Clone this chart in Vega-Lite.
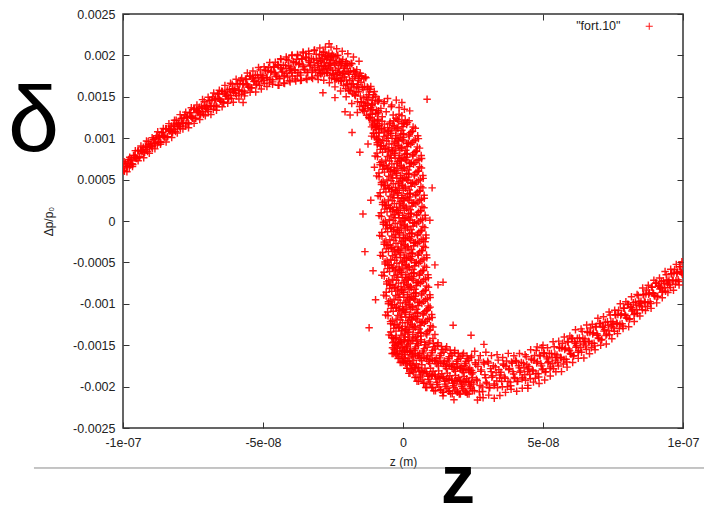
{
"$schema":"https://vega.github.io/schema/vega-lite/v6.json",
"width":560,"height":414,
"autosize":{"type":"none"},
"padding":{"left":123,"top":14,"right":21,"bottom":79},
"background":"white",
"config":{
"view":{"stroke":"#333333","strokeWidth":1.5},
"font":"Liberation Sans",
"axis":{"domain":false,"grid":false,"labelFont":"Liberation Sans","labelFontSize":12.5,"labelColor":"#222222","tickColor":"#333333","tickSize":-6,"tickWidth":1,"titleFont":"Liberation Sans","titleFontSize":12,"titleFontWeight":"normal","titleColor":"#222222"}
},
"data":{"values":[
{"z":-100e-9,"d":6.40e-4},{"z":-99.5e-9,"d":6.00e-4},{"z":-99e-9,"d":6.95e-4},{"z":-98.5e-9,"d":6.60e-4},{"z":-98e-9,"d":7.42e-4},{"z":-97.5e-9,"d":6.74e-4},{"z":-97e-9,"d":7.41e-4},{"z":-96.5e-9,"d":6.83e-4},{"z":-96e-9,"d":7.92e-4},{"z":-95.5e-9,"d":7.63e-4},
{"z":-95e-9,"d":7.58e-4},{"z":-94.5e-9,"d":8.51e-4},{"z":-94e-9,"d":7.76e-4},{"z":-93.5e-9,"d":8.50e-4},{"z":-93e-9,"d":8.45e-4},{"z":-92.5e-9,"d":8.20e-4},{"z":-92e-9,"d":9.04e-4},{"z":-91.5e-9,"d":8.60e-4},{"z":-91e-9,"d":9.58e-4},{"z":-90.5e-9,"d":8.97e-4},
{"z":-90e-9,"d":9.32e-4},{"z":-89.5e-9,"d":8.80e-4},{"z":-89e-9,"d":9.86e-4},{"z":-88.5e-9,"d":9.40e-4},{"z":-88e-9,"d":10.30e-4},{"z":-87.5e-9,"d":9.47e-4},{"z":-87e-9,"d":10.19e-4},{"z":-86.5e-9,"d":9.48e-4},{"z":-86e-9,"d":10.70e-4},{"z":-85.5e-9,"d":10.27e-4},
{"z":-85e-9,"d":10.14e-4},{"z":-84.5e-9,"d":11.14e-4},{"z":-84e-9,"d":10.19e-4},{"z":-83.5e-9,"d":11.02e-4},{"z":-83e-9,"d":10.95e-4},{"z":-82.5e-9,"d":10.63e-4},{"z":-82e-9,"d":11.59e-4},{"z":-81.5e-9,"d":11.07e-4},{"z":-81e-9,"d":12.17e-4},{"z":-80.5e-9,"d":11.45e-4},
{"z":-80e-9,"d":11.83e-4},{"z":-79.5e-9,"d":11.20e-4},{"z":-79e-9,"d":12.37e-4},{"z":-78.5e-9,"d":11.80e-4},{"z":-78e-9,"d":12.79e-4},{"z":-77.5e-9,"d":11.79e-4},{"z":-77e-9,"d":12.58e-4},{"z":-76.5e-9,"d":11.71e-4},{"z":-76e-9,"d":13.07e-4},{"z":-75.5e-9,"d":12.56e-4},
{"z":-75e-9,"d":12.40e-4},{"z":-74.5e-9,"d":13.52e-4},{"z":-74e-9,"d":12.42e-4},{"z":-73.5e-9,"d":13.32e-4},{"z":-73e-9,"d":13.20e-4},{"z":-72.5e-9,"d":12.80e-4},{"z":-72e-9,"d":13.84e-4},{"z":-71.5e-9,"d":13.20e-4},{"z":-71e-9,"d":14.41e-4},{"z":-70.5e-9,"d":13.55e-4},
{"z":-70e-9,"d":13.95e-4},{"z":-69.5e-9,"d":13.22e-4},{"z":-69e-9,"d":14.53e-4},{"z":-68.5e-9,"d":13.87e-4},{"z":-68e-9,"d":14.97e-4},{"z":-67.5e-9,"d":13.87e-4},{"z":-67e-9,"d":14.76e-4},{"z":-66.5e-9,"d":13.81e-4},{"z":-66e-9,"d":15.33e-4},{"z":-65.5e-9,"d":14.70e-4},
{"z":-65e-9,"d":14.45e-4},{"z":-64.5e-9,"d":15.64e-4},{"z":-64e-9,"d":14.35e-4},{"z":-63.5e-9,"d":15.34e-4},{"z":-63e-9,"d":15.20e-4},{"z":-62.5e-9,"d":14.73e-4},{"z":-62e-9,"d":15.90e-4},{"z":-61.5e-9,"d":15.17e-4},{"z":-61e-9,"d":16.51e-4},{"z":-60.5e-9,"d":15.53e-4},
{"z":-60e-9,"d":15.97e-4},{"z":-59.5e-9,"d":15.12e-4},{"z":-59e-9,"d":16.54e-4},{"z":-58.5e-9,"d":15.78e-4},{"z":-58e-9,"d":16.96e-4},{"z":-57.5e-9,"d":15.66e-4},{"z":-57e-9,"d":16.59e-4},{"z":-56.5e-9,"d":15.47e-4},{"z":-56e-9,"d":17.10e-4},{"z":-55.5e-9,"d":16.41e-4},
{"z":-55e-9,"d":16.16e-4},{"z":-54.5e-9,"d":17.49e-4},{"z":-54e-9,"d":16.09e-4},{"z":-53.5e-9,"d":17.15e-4},{"z":-53e-9,"d":16.95e-4},{"z":-52.5e-9,"d":16.41e-4},{"z":-52e-9,"d":17.65e-4},{"z":-51.5e-9,"d":16.82e-4},{"z":-51e-9,"d":18.25e-4},{"z":-50.5e-9,"d":17.15e-4},
{"z":-50e-9,"d":17.59e-4},{"z":-49.5e-9,"d":16.61e-4},{"z":-49e-9,"d":18.15e-4},{"z":-48.5e-9,"d":17.27e-4},{"z":-48e-9,"d":18.55e-4},{"z":-47.5e-9,"d":17.08e-4},{"z":-47e-9,"d":18.08e-4},{"z":-46.5e-9,"d":16.80e-4},{"z":-46e-9,"d":18.57e-4},{"z":-45.5e-9,"d":17.75e-4},
{"z":-45e-9,"d":17.42e-4},{"z":-44.5e-9,"d":18.81e-4},{"z":-44e-9,"d":17.22e-4},{"z":-43.5e-9,"d":18.34e-4},{"z":-43e-9,"d":18.10e-4},{"z":-42.5e-9,"d":17.46e-4},{"z":-42e-9,"d":18.80e-4},{"z":-41.5e-9,"d":17.85e-4},{"z":-41e-9,"d":19.40e-4},{"z":-40.5e-9,"d":18.15e-4},
{"z":-40e-9,"d":18.60e-4},{"z":-39.5e-9,"d":17.52e-4},{"z":-39e-9,"d":19.16e-4},{"z":-38.5e-9,"d":18.18e-4},{"z":-38e-9,"d":19.53e-4},{"z":-37.5e-9,"d":17.93e-4},{"z":-37e-9,"d":19.01e-4},{"z":-36.5e-9,"d":17.62e-4},{"z":-36e-9,"d":19.54e-4},{"z":-35.5e-9,"d":18.63e-4},
{"z":-35e-9,"d":18.23e-4},{"z":-34.5e-9,"d":19.73e-4},{"z":-34e-9,"d":17.94e-4},{"z":-33.5e-9,"d":19.15e-4},{"z":-33e-9,"d":18.85e-4},{"z":-32.5e-9,"d":18.13e-4},{"z":-32e-9,"d":19.55e-4},{"z":-31.5e-9,"d":18.50e-4},{"z":-31e-9,"d":20.14e-4},{"z":-30.5e-9,"d":18.76e-4},
{"z":-99.75e-9,"d":6.13e-4},{"z":-99.25e-9,"d":6.93e-4},{"z":-98.75e-9,"d":6.58e-4},{"z":-98.25e-9,"d":7.13e-4},{"z":-97.75e-9,"d":6.46e-4},{"z":-97.25e-9,"d":7.29e-4},{"z":-96.75e-9,"d":6.92e-4},{"z":-96.25e-9,"d":7.90e-4},{"z":-95.75e-9,"d":7.64e-4},{"z":-95.25e-9,"d":7.56e-4},
{"z":-94.75e-9,"d":8.47e-4},{"z":-94.25e-9,"d":7.70e-4},{"z":-93.75e-9,"d":8.55e-4},{"z":-93.25e-9,"d":8.34e-4},{"z":-92.75e-9,"d":8.90e-4},{"z":-92.25e-9,"d":8.31e-4},{"z":-91.75e-9,"d":8.88e-4},{"z":-91.25e-9,"d":8.38e-4},{"z":-90.75e-9,"d":9.25e-4},{"z":-90.25e-9,"d":9.14e-4},
{"z":-89.75e-9,"d":8.97e-4},{"z":-89.25e-9,"d":9.86e-4},{"z":-88.75e-9,"d":9.40e-4},{"z":-88.25e-9,"d":9.99e-4},{"z":-87.75e-9,"d":9.17e-4},{"z":-87.25e-9,"d":10.07e-4},{"z":-86.75e-9,"d":9.60e-4},{"z":-86.25e-9,"d":10.68e-4},{"z":-85.75e-9,"d":10.33e-4},{"z":-85.25e-9,"d":10.14e-4},
{"z":-84.75e-9,"d":11.14e-4},{"z":-84.25e-9,"d":10.14e-4},{"z":-83.75e-9,"d":11.09e-4},{"z":-83.25e-9,"d":10.83e-4},{"z":-82.75e-9,"d":11.47e-4},{"z":-82.25e-9,"d":10.76e-4},{"z":-81.75e-9,"d":11.40e-4},{"z":-81.25e-9,"d":10.81e-4},{"z":-80.75e-9,"d":11.78e-4},{"z":-80.25e-9,"d":11.64e-4},
{"z":-79.75e-9,"d":11.42e-4},{"z":-79.25e-9,"d":12.39e-4},{"z":-78.75e-9,"d":11.82e-4},{"z":-78.25e-9,"d":12.45e-4},{"z":-77.75e-9,"d":11.46e-4},{"z":-77.25e-9,"d":12.46e-4},{"z":-76.75e-9,"d":11.87e-4},{"z":-76.25e-9,"d":13.07e-4},{"z":-75.75e-9,"d":12.64e-4},{"z":-75.25e-9,"d":12.41e-4},
{"z":-74.75e-9,"d":13.53e-4},{"z":-74.25e-9,"d":12.37e-4},{"z":-73.75e-9,"d":13.41e-4},{"z":-73.25e-9,"d":13.08e-4},{"z":-72.75e-9,"d":13.75e-4},{"z":-72.25e-9,"d":12.92e-4},{"z":-71.75e-9,"d":13.60e-4},{"z":-71.25e-9,"d":12.88e-4},{"z":-70.75e-9,"d":13.95e-4},{"z":-70.25e-9,"d":13.75e-4},
{"z":-69.75e-9,"d":13.47e-4},{"z":-69.25e-9,"d":14.56e-4},{"z":-68.75e-9,"d":13.90e-4},{"z":-68.25e-9,"d":14.61e-4},{"z":-67.75e-9,"d":13.50e-4},{"z":-67.25e-9,"d":14.62e-4},{"z":-66.75e-9,"d":13.98e-4},{"z":-66.25e-9,"d":15.33e-4},{"z":-65.75e-9,"d":14.82e-4},{"z":-65.25e-9,"d":14.50e-4},
{"z":-64.75e-9,"d":15.68e-4},{"z":-64.25e-9,"d":14.34e-4},{"z":-63.75e-9,"d":15.46e-4},{"z":-63.25e-9,"d":15.07e-4},{"z":-62.75e-9,"d":15.82e-4},{"z":-62.25e-9,"d":14.86e-4},{"z":-61.75e-9,"d":15.62e-4},{"z":-61.25e-9,"d":14.80e-4},{"z":-60.75e-9,"d":15.98e-4},{"z":-60.25e-9,"d":15.75e-4},
{"z":-59.75e-9,"d":15.42e-4},{"z":-59.25e-9,"d":16.59e-4},{"z":-58.75e-9,"d":15.82e-4},{"z":-58.25e-9,"d":16.57e-4},{"z":-57.75e-9,"d":15.28e-4},{"z":-57.25e-9,"d":16.48e-4},{"z":-56.75e-9,"d":15.69e-4},{"z":-56.25e-9,"d":17.14e-4},{"z":-55.75e-9,"d":16.54e-4},{"z":-55.25e-9,"d":16.20e-4},
{"z":-54.75e-9,"d":17.53e-4},{"z":-54.25e-9,"d":16.05e-4},{"z":-53.75e-9,"d":17.29e-4},{"z":-53.25e-9,"d":16.83e-4},{"z":-52.75e-9,"d":17.61e-4},{"z":-52.25e-9,"d":16.54e-4},{"z":-51.75e-9,"d":17.32e-4},{"z":-51.25e-9,"d":16.40e-4},{"z":-50.75e-9,"d":17.65e-4},{"z":-50.25e-9,"d":17.37e-4},
{"z":-49.75e-9,"d":16.96e-4},{"z":-49.25e-9,"d":18.22e-4},{"z":-48.75e-9,"d":17.34e-4},{"z":-48.25e-9,"d":18.14e-4},{"z":-47.75e-9,"d":16.68e-4},{"z":-47.25e-9,"d":17.96e-4},{"z":-46.75e-9,"d":17.06e-4},{"z":-46.25e-9,"d":18.63e-4},{"z":-45.75e-9,"d":17.93e-4},{"z":-45.25e-9,"d":17.50e-4},
{"z":-44.75e-9,"d":18.89e-4},{"z":-44.25e-9,"d":17.21e-4},{"z":-43.75e-9,"d":18.52e-4},{"z":-43.25e-9,"d":17.98e-4},{"z":-42.75e-9,"d":18.82e-4},{"z":-42.25e-9,"d":17.59e-4},{"z":-41.75e-9,"d":18.43e-4},{"z":-41.25e-9,"d":17.38e-4},{"z":-40.75e-9,"d":18.73e-4},{"z":-40.25e-9,"d":18.38e-4},
{"z":-39.75e-9,"d":17.91e-4},{"z":-39.25e-9,"d":19.25e-4},{"z":-38.75e-9,"d":18.27e-4},{"z":-38.25e-9,"d":19.10e-4},{"z":-37.75e-9,"d":17.50e-4},{"z":-37.25e-9,"d":18.89e-4},{"z":-36.75e-9,"d":17.91e-4},{"z":-36.25e-9,"d":19.61e-4},{"z":-35.75e-9,"d":18.83e-4},{"z":-35.25e-9,"d":18.32e-4},
{"z":-34.75e-9,"d":19.82e-4},{"z":-34.25e-9,"d":17.95e-4},{"z":-33.75e-9,"d":19.36e-4},{"z":-33.25e-9,"d":18.73e-4},{"z":-32.75e-9,"d":19.62e-4},{"z":-32.25e-9,"d":18.25e-4},{"z":-31.75e-9,"d":19.14e-4},{"z":-31.25e-9,"d":17.97e-4},{"z":-30.75e-9,"d":19.40e-4},{"z":-30.25e-9,"d":18.99e-4},
{"z":-99.6e-9,"d":7.17e-4},{"z":-98.6e-9,"d":5.95e-4},{"z":-97.6e-9,"d":7.70e-4},{"z":-96.6e-9,"d":6.58e-4},{"z":-95.6e-9,"d":8.50e-4},{"z":-94.6e-9,"d":7.28e-4},{"z":-93.6e-9,"d":9.07e-4},{"z":-92.6e-9,"d":7.65e-4},{"z":-91.6e-9,"d":9.66e-4},{"z":-90.6e-9,"d":8.18e-4},
{"z":-89.6e-9,"d":10.07e-4},{"z":-88.6e-9,"d":8.71e-4},{"z":-87.6e-9,"d":10.78e-4},{"z":-86.6e-9,"d":9.26e-4},{"z":-85.6e-9,"d":11.17e-4},{"z":-84.6e-9,"d":9.54e-4},{"z":-83.6e-9,"d":11.76e-4},{"z":-82.6e-9,"d":10.08e-4},{"z":-81.6e-9,"d":12.16e-4},{"z":-80.6e-9,"d":10.63e-4},
{"z":-79.6e-9,"d":12.85e-4},{"z":-78.6e-9,"d":11.10e-4},{"z":-77.6e-9,"d":13.15e-4},{"z":-76.6e-9,"d":11.26e-4},{"z":-75.6e-9,"d":13.67e-4},{"z":-74.6e-9,"d":11.79e-4},{"z":-73.6e-9,"d":14.02e-4},{"z":-72.6e-9,"d":12.26e-4},{"z":-71.6e-9,"d":14.66e-4},{"z":-70.6e-9,"d":12.71e-4},
{"z":-69.6e-9,"d":14.94e-4},{"z":-68.6e-9,"d":12.86e-4},{"z":-67.6e-9,"d":15.46e-4},{"z":-66.6e-9,"d":13.38e-4},{"z":-65.6e-9,"d":15.79e-4},{"z":-64.6e-9,"d":13.79e-4},{"z":-63.6e-9,"d":16.38e-4},{"z":-62.6e-9,"d":14.23e-4},{"z":-61.6e-9,"d":16.63e-4},{"z":-60.6e-9,"d":14.35e-4},
{"z":-59.6e-9,"d":17.12e-4},{"z":-58.6e-9,"d":14.74e-4},{"z":-57.6e-9,"d":17.28e-4},{"z":-56.6e-9,"d":15.11e-4},{"z":-55.6e-9,"d":17.87e-4},{"z":-54.6e-9,"d":15.54e-4},{"z":-53.6e-9,"d":18.11e-4},{"z":-52.6e-9,"d":15.57e-4},{"z":-51.6e-9,"d":18.53e-4},{"z":-50.6e-9,"d":15.95e-4},
{"z":-49.6e-9,"d":18.64e-4},{"z":-48.6e-9,"d":16.24e-4},{"z":-47.6e-9,"d":19.14e-4},{"z":-46.6e-9,"d":16.51e-4},{"z":-45.6e-9,"d":19.18e-4},{"z":-44.6e-9,"d":16.40e-4},{"z":-43.6e-9,"d":19.50e-4},{"z":-42.6e-9,"d":16.67e-4},{"z":-41.6e-9,"d":19.53e-4},{"z":-40.6e-9,"d":16.94e-4},
{"z":-39.6e-9,"d":20.04e-4},{"z":-38.6e-9,"d":17.14e-4},{"z":-37.6e-9,"d":19.98e-4},{"z":-36.6e-9,"d":16.98e-4},{"z":-35.6e-9,"d":20.28e-4},{"z":-34.6e-9,"d":17.20e-4},{"z":-33.6e-9,"d":20.20e-4},{"z":-32.6e-9,"d":17.37e-4},{"z":-31.6e-9,"d":20.65e-4},{"z":-30.6e-9,"d":17.55e-4},
{"z":-43.7e-9,"d":19.6e-4},{"z":-44.3e-9,"d":16.4e-4},{"z":-41.7e-9,"d":19.8e-4},{"z":-42.3e-9,"d":16.6e-4},{"z":-39.7e-9,"d":20.0e-4},{"z":-40.3e-9,"d":16.8e-4},{"z":-37.7e-9,"d":20.1e-4},{"z":-38.3e-9,"d":16.9e-4},{"z":-35.7e-9,"d":20.4e-4},{"z":-36.3e-9,"d":17.0e-4},
{"z":-33.7e-9,"d":20.5e-4},{"z":-34.3e-9,"d":17.1e-4},{"z":-31.7e-9,"d":20.6e-4},{"z":-32.3e-9,"d":17.2e-4},{"z":-29.7e-9,"d":20.9e-4},{"z":-30.3e-9,"d":17.1e-4},{"z":-27.7e-9,"d":21.0e-4},{"z":-28.3e-9,"d":17.0e-4},{"z":-25.7e-9,"d":21.0e-4},{"z":-26.3e-9,"d":16.7e-4},
{"z":-23.7e-9,"d":20.8e-4},{"z":-24.3e-9,"d":16.2e-4},{"z":-21.7e-9,"d":20.5e-4},{"z":-22.3e-9,"d":15.7e-4},{"z":-19.7e-9,"d":20.2e-4},{"z":-20.3e-9,"d":15.0e-4},{"z":-17.7e-9,"d":19.8e-4},{"z":-18.3e-9,"d":14.2e-4},{"z":-15.7e-9,"d":19.3e-4},{"z":-16.3e-9,"d":13.1e-4},
{"z":-30e-9,"d":19.6e-4},{"z":-30e-9,"d":18.16e-4},{"z":-29.5e-9,"d":17.78e-4},{"z":-29.5e-9,"d":19.37e-4},{"z":-29e-9,"d":20.12e-4},{"z":-29e-9,"d":18.75e-4},{"z":-28.5e-9,"d":18.37e-4},{"z":-28.5e-9,"d":20.39e-4},{"z":-28e-9,"d":19.13e-4},{"z":-28e-9,"d":17.85e-4},
{"z":-27.5e-9,"d":19.89e-4},{"z":-27.5e-9,"d":18.46e-4},{"z":-27e-9,"d":17.89e-4},{"z":-27e-9,"d":19.74e-4},{"z":-26.5e-9,"d":20.27e-4},{"z":-26.5e-9,"d":18.80e-4},{"z":-26e-9,"d":18.49e-4},{"z":-26e-9,"d":19.44e-4},{"z":-25.5e-9,"d":17.28e-4},{"z":-25.5e-9,"d":19.90e-4},
{"z":-25e-9,"d":19.40e-4},{"z":-25e-9,"d":17.72e-4},{"z":-24.5e-9,"d":17.18e-4},{"z":-24.5e-9,"d":19.03e-4},{"z":-24e-9,"d":19.80e-4},{"z":-24e-9,"d":18.21e-4},{"z":-23.5e-9,"d":17.67e-4},{"z":-23.5e-9,"d":20.01e-4},{"z":-23e-9,"d":18.45e-4},{"z":-23e-9,"d":16.97e-4},
{"z":-22.5e-9,"d":19.25e-4},{"z":-22.5e-9,"d":17.60e-4},{"z":-22e-9,"d":16.88e-4},{"z":-22e-9,"d":19.01e-4},{"z":-21.5e-9,"d":19.52e-4},{"z":-21.5e-9,"d":17.83e-4},{"z":-21e-9,"d":17.38e-4},{"z":-21e-9,"d":18.47e-4},{"z":-20.5e-9,"d":15.99e-4},{"z":-20.5e-9,"d":19.0e-4},
{"z":-20e-9,"d":18.4e-4},{"z":-20e-9,"d":16.48e-4},{"z":-19.5e-9,"d":15.81e-4},{"z":-19.5e-9,"d":17.94e-4},{"z":-19e-9,"d":18.81e-4},{"z":-19e-9,"d":16.96e-4},{"z":-18.5e-9,"d":16.29e-4},{"z":-18.5e-9,"d":19.04e-4},{"z":-18e-9,"d":17.18e-4},{"z":-18e-9,"d":15.42e-4},
{"z":-17.5e-9,"d":18.06e-4},{"z":-17.5e-9,"d":16.08e-4},{"z":-17e-9,"d":15.13e-4},{"z":-17e-9,"d":17.70e-4},{"z":-16.5e-9,"d":18.28e-4},{"z":-16.5e-9,"d":16.21e-4},{"z":-16e-9,"d":15.62e-4},{"z":-16e-9,"d":16.97e-4},{"z":-15.5e-9,"d":13.82e-4},{"z":-15.5e-9,"d":17.55e-4},
{"z":-15e-9,"d":16.75e-4},{"z":-15e-9,"d":14.35e-4},{"z":-14.5e-9,"d":13.48e-4},{"z":-14.5e-9,"d":16.15e-4},{"z":-14e-9,"d":17.19e-4},{"z":-14e-9,"d":14.88e-4},{"z":-13.5e-9,"d":13.96e-4},{"z":-13.5e-9,"d":17.40e-4},{"z":-13e-9,"d":14.97e-4},{"z":-13e-9,"d":12.77e-4},
{"z":-12.5e-9,"d":16.05e-4},{"z":-12.5e-9,"d":13.58e-4},{"z":-12e-9,"d":12.36e-4},{"z":-12e-9,"d":15.58e-4},{"z":-11.5e-9,"d":16.25e-4},{"z":-11.5e-9,"d":13.67e-4},{"z":-11e-9,"d":12.88e-4},{"z":-11e-9,"d":14.56e-4},{"z":-10.5e-9,"d":10.61e-4},{"z":-10.5e-9,"d":15.26e-4},
{"z":-10e-9,"d":14.25e-4},{"z":-10e-9,"d":11.25e-4},{"z":-9.5e-9,"d":10.13e-4},{"z":-9.5e-9,"d":13.38e-4},{"z":-9e-9,"d":14.5e-4},{"z":-9e-9,"d":11.75e-4},{"z":-8.5e-9,"d":10.63e-4},{"z":-8.5e-9,"d":14.63e-4},
{"z":-29.75e-9,"d":18.27e-4},{"z":-29.75e-9,"d":20.09e-4},{"z":-29.25e-9,"d":19.25e-4},{"z":-29.25e-9,"d":17.77e-4},{"z":-28.75e-9,"d":17.88e-4},{"z":-28.75e-9,"d":19.63e-4},{"z":-28.25e-9,"d":20.40e-4},{"z":-28.25e-9,"d":18.62e-4},{"z":-27.75e-9,"d":18.73e-4},{"z":-27.75e-9,"d":19.89e-4},
{"z":-27.25e-9,"d":19.49e-4},{"z":-27.25e-9,"d":17.92e-4},{"z":-26.75e-9,"d":20.0e-4},{"z":-26.75e-9,"d":18.28e-4},{"z":-26.25e-9,"d":17.57e-4},{"z":-26.25e-9,"d":19.06e-4},{"z":-25.75e-9,"d":19.67e-4},{"z":-25.75e-9,"d":18.85e-4},{"z":-25.25e-9,"d":18.19e-4},{"z":-25.25e-9,"d":20.14e-4},
{"z":-24.75e-9,"d":17.80e-4},{"z":-24.75e-9,"d":19.92e-4},{"z":-24.25e-9,"d":18.84e-4},{"z":-24.25e-9,"d":17.12e-4},{"z":-23.75e-9,"d":17.15e-4},{"z":-23.75e-9,"d":19.18e-4},{"z":-23.25e-9,"d":19.97e-4},{"z":-23.25e-9,"d":17.91e-4},{"z":-22.75e-9,"d":17.95e-4},{"z":-22.75e-9,"d":19.29e-4},
{"z":-22.25e-9,"d":18.75e-4},{"z":-22.25e-9,"d":16.94e-4},{"z":-21.75e-9,"d":19.26e-4},{"z":-21.75e-9,"d":17.28e-4},{"z":-21.25e-9,"d":16.37e-4},{"z":-21.25e-9,"d":18.08e-4},{"z":-20.75e-9,"d":18.73e-4},{"z":-20.75e-9,"d":17.79e-4},{"z":-20.25e-9,"d":17.03e-4},{"z":-20.25e-9,"d":19.26e-4},
{"z":-19.75e-9,"d":16.56e-4},{"z":-19.75e-9,"d":18.99e-4},{"z":-19.25e-9,"d":17.71e-4},{"z":-19.25e-9,"d":15.72e-4},{"z":-18.75e-9,"d":15.70e-4},{"z":-18.75e-9,"d":18.08e-4},{"z":-18.25e-9,"d":18.99e-4},{"z":-18.25e-9,"d":16.56e-4},{"z":-17.75e-9,"d":16.54e-4},{"z":-17.75e-9,"d":18.15e-4},
{"z":-17.25e-9,"d":17.43e-4},{"z":-17.25e-9,"d":15.24e-4},{"z":-16.75e-9,"d":17.99e-4},{"z":-16.75e-9,"d":15.57e-4},{"z":-16.25e-9,"d":14.4e-4},{"z":-16.25e-9,"d":16.49e-4},{"z":-15.75e-9,"d":17.25e-4},{"z":-15.75e-9,"d":16.09e-4},{"z":-15.25e-9,"d":15.08e-4},{"z":-15.25e-9,"d":17.85e-4},
{"z":-14.75e-9,"d":14.42e-4},{"z":-14.75e-9,"d":17.47e-4},{"z":-14.25e-9,"d":15.84e-4},{"z":-14.25e-9,"d":13.34e-4},{"z":-13.75e-9,"d":13.25e-4},{"z":-13.75e-9,"d":16.24e-4},{"z":-13.25e-9,"d":17.29e-4},{"z":-13.25e-9,"d":14.24e-4},{"z":-12.75e-9,"d":14.17e-4},{"z":-12.75e-9,"d":16.18e-4},
{"z":-12.25e-9,"d":15.25e-4},{"z":-12.25e-9,"d":12.52e-4},{"z":-11.75e-9,"d":15.91e-4},{"z":-11.75e-9,"d":12.89e-4},{"z":-11.25e-9,"d":11.37e-4},{"z":-11.25e-9,"d":13.99e-4},{"z":-10.75e-9,"d":14.91e-4},{"z":-10.75e-9,"d":13.45e-4},{"z":-10.25e-9,"d":12.16e-4},{"z":-10.25e-9,"d":15.63e-4},
{"z":-9.75e-9,"d":11.32e-4},{"z":-9.75e-9,"d":15.07e-4},{"z":-9.25e-9,"d":12.94e-4},{"z":-9.25e-9,"d":9.94e-4},{"z":-8.75e-9,"d":9.82e-4},{"z":-8.75e-9,"d":13.32e-4},
{"z":-9.0e-9,"d":12.3e-4},{"z":-2.5e-9,"d":12.4e-4},{"z":0.8e-9,"d":12.2e-4},{"z":-7.4e-9,"d":12.6e-4},{"z":-0.4e-9,"d":12.7e-4},{"z":-11.6e-9,"d":12.5e-4},{"z":-1.4e-9,"d":12.9e-4},{"z":-9.8e-9,"d":13.0e-4},{"z":-3.5e-9,"d":12.8e-4},
{"z":-6.0e-9,"d":13.2e-4},{"z":2.4e-9,"d":13.3e-4},{"z":-8.8e-9,"d":13.1e-4},{"z":0.5e-9,"d":13.5e-4},{"z":-7.9e-9,"d":13.6e-4},{"z":-11.4e-9,"d":13.4e-4},{"z":-4.2e-9,"d":13.8e-4},{"z":-14.0e-9,"d":13.9e-4},{"z":-1.4e-9,"d":13.7e-4},
{"z":-11.0e-9,"d":14.1e-4},{"z":-6.8e-9,"d":14.2e-4},{"z":-4.0e-9,"d":14.0e-4},{"z":-6.7e-9,"d":14.4e-4},{"z":-8.8e-9,"d":14.5e-4},{"z":-0.4e-9,"d":14.3e-4},{"z":-12.5e-9,"d":14.7e-4},{"z":-5.5e-9,"d":14.8e-4},{"z":-2.4e-9,"d":14.6e-4},
{"z":-10.3e-9,"d":12.0e-4},{"z":-3.3e-9,"d":12.1e-4},{"z":1.6e-9,"d":11.9e-4},{"z":-6.6e-9,"d":11.7e-4},{"z":0.4e-9,"d":11.8e-4},{"z":-10.8e-9,"d":11.6e-4},{"z":0.0e-9,"d":11.4e-4},{"z":-8.4e-9,"d":11.5e-4},{"z":-2.1e-9,"d":11.3e-4},
{"z":-4.0e-9,"d":11.1e-4},{"z":4.4e-9,"d":11.2e-4},{"z":-6.8e-9,"d":11.0e-4},{"z":3.2e-9,"d":10.8e-4},{"z":-5.2e-9,"d":10.9e-4},{"z":-8.7e-9,"d":10.7e-4},{"z":-0.8e-9,"d":10.5e-4},{"z":-10.6e-9,"d":10.6e-4},{"z":2.0e-9,"d":10.4e-4},
{"z":-6.8e-9,"d":10.2e-4},{"z":-2.6e-9,"d":10.3e-4},{"z":0.2e-9,"d":10.1e-4},{"z":-1.8e-9,"d":9.9e-4},{"z":-3.9e-9,"d":10.0e-4},{"z":4.5e-9,"d":9.8e-4},{"z":-8.6e-9,"d":9.6e-4},{"z":-1.6e-9,"d":9.7e-4},{"z":3.3e-9,"d":9.5e-4},
{"z":-5.0e-9,"d":9.3e-4},{"z":2.0e-9,"d":9.4e-4},{"z":-9.2e-9,"d":9.2e-4},{"z":1.5e-9,"d":9.0e-4},{"z":-6.9e-9,"d":9.1e-4},{"z":-0.6e-9,"d":8.9e-4},{"z":-2.6e-9,"d":8.7e-4},{"z":5.9e-9,"d":8.8e-4},{"z":-5.4e-9,"d":8.6e-4},
{"z":4.6e-9,"d":8.4e-4},{"z":-3.8e-9,"d":8.5e-4},{"z":-7.3e-9,"d":8.3e-4},{"z":0.6e-9,"d":8.1e-4},{"z":-9.3e-9,"d":8.2e-4},{"z":3.4e-9,"d":8.0e-4},{"z":-5.6e-9,"d":7.8e-4},{"z":-1.4e-9,"d":7.9e-4},{"z":1.4e-9,"d":7.7e-4},
{"z":-0.7e-9,"d":7.5e-4},{"z":-2.8e-9,"d":7.6e-4},{"z":5.7e-9,"d":7.4e-4},{"z":-7.6e-9,"d":7.2e-4},{"z":-0.6e-9,"d":7.3e-4},{"z":4.3e-9,"d":7.1e-4},{"z":-4.0e-9,"d":6.9e-4},{"z":3.0e-9,"d":7.0e-4},{"z":-8.2e-9,"d":6.8e-4},
{"z":2.4e-9,"d":6.6e-4},{"z":-6.0e-9,"d":6.7e-4},{"z":0.3e-9,"d":6.5e-4},{"z":-1.8e-9,"d":6.3e-4},{"z":6.6e-9,"d":6.4e-4},{"z":-4.6e-9,"d":6.2e-4},{"z":5.3e-9,"d":6.0e-4},{"z":-3.1e-9,"d":6.1e-4},{"z":-6.6e-9,"d":5.9e-4},
{"z":1.2e-9,"d":5.7e-4},{"z":-8.6e-9,"d":5.8e-4},{"z":4.0e-9,"d":5.6e-4},{"z":-5.1e-9,"d":5.4e-4},{"z":-0.9e-9,"d":5.5e-4},{"z":1.9e-9,"d":5.3e-4},{"z":-0.1e-9,"d":5.1e-4},{"z":-2.2e-9,"d":5.2e-4},{"z":6.2e-9,"d":5.0e-4},
{"z":-7.1e-9,"d":4.8e-4},{"z":-0.1e-9,"d":4.9e-4},{"z":4.8e-9,"d":4.7e-4},{"z":-3.5e-9,"d":4.5e-4},{"z":3.5e-9,"d":4.6e-4},{"z":-7.7e-9,"d":4.4e-4},{"z":2.9e-9,"d":4.2e-4},{"z":-5.5e-9,"d":4.3e-4},{"z":0.8e-9,"d":4.1e-4},
{"z":-1.3e-9,"d":3.9e-4},{"z":7.1e-9,"d":4.0e-4},{"z":-4.1e-9,"d":3.8e-4},{"z":5.8e-9,"d":3.6e-4},{"z":-2.6e-9,"d":3.7e-4},{"z":-6.1e-9,"d":3.5e-4},{"z":1.6e-9,"d":3.3e-4},{"z":-8.2e-9,"d":3.4e-4},{"z":4.4e-9,"d":3.2e-4},
{"z":-4.6e-9,"d":3.0e-4},{"z":-0.4e-9,"d":3.1e-4},{"z":2.4e-9,"d":2.9e-4},{"z":0.3e-9,"d":2.7e-4},{"z":-1.8e-9,"d":2.8e-4},{"z":6.6e-9,"d":2.6e-4},{"z":-6.6e-9,"d":2.4e-4},{"z":0.4e-9,"d":2.5e-4},{"z":5.3e-9,"d":2.3e-4},
{"z":-3.1e-9,"d":2.1e-4},{"z":3.9e-9,"d":2.2e-4},{"z":-7.3e-9,"d":2.0e-4},{"z":3.2e-9,"d":1.8e-4},{"z":-5.2e-9,"d":1.9e-4},{"z":1.1e-9,"d":1.7e-4},{"z":-0.9e-9,"d":1.5e-4},{"z":7.5e-9,"d":1.6e-4},{"z":-3.7e-9,"d":1.4e-4},
{"z":6.2e-9,"d":1.2e-4},{"z":-2.2e-9,"d":1.3e-4},{"z":-5.7e-9,"d":1.1e-4},{"z":2.0e-9,"d":0.9e-4},{"z":-7.8e-9,"d":1.0e-4},{"z":4.8e-9,"d":0.8e-4},{"z":-4.3e-9,"d":0.6e-4},{"z":-0.1e-9,"d":0.7e-4},{"z":2.7e-9,"d":0.5e-4},
{"z":0.7e-9,"d":0.3e-4},{"z":-1.4e-9,"d":0.4e-4},{"z":7.0e-9,"d":0.2e-4},{"z":-6.3e-9,"d":0.0e-4},{"z":0.7e-9,"d":0.1e-4},{"z":5.6e-9,"d":-0.1e-4},{"z":-2.8e-9,"d":-0.3e-4},{"z":4.2e-9,"d":-0.2e-4},{"z":-7.0e-9,"d":-0.4e-4},
{"z":3.6e-9,"d":-0.6e-4},{"z":-4.8e-9,"d":-0.5e-4},{"z":1.5e-9,"d":-0.7e-4},{"z":-0.6e-9,"d":-0.9e-4},{"z":7.8e-9,"d":-0.8e-4},{"z":-3.4e-9,"d":-1.0e-4},{"z":6.4e-9,"d":-1.2e-4},{"z":-2.0e-9,"d":-1.1e-4},{"z":-5.5e-9,"d":-1.3e-4},
{"z":2.3e-9,"d":-1.5e-4},{"z":-7.6e-9,"d":-1.4e-4},{"z":5.1e-9,"d":-1.6e-4},{"z":-4.0e-9,"d":-1.8e-4},{"z":0.2e-9,"d":-1.7e-4},{"z":3.0e-9,"d":-1.9e-4},{"z":0.9e-9,"d":-2.1e-4},{"z":-1.2e-9,"d":-2.0e-4},{"z":7.2e-9,"d":-2.2e-4},
{"z":-6.1e-9,"d":-2.4e-4},{"z":0.9e-9,"d":-2.3e-4},{"z":5.8e-9,"d":-2.5e-4},{"z":-2.5e-9,"d":-2.7e-4},{"z":4.5e-9,"d":-2.6e-4},{"z":-6.7e-9,"d":-2.8e-4},{"z":3.8e-9,"d":-3.0e-4},{"z":-4.6e-9,"d":-2.9e-4},{"z":1.7e-9,"d":-3.1e-4},
{"z":-0.4e-9,"d":-3.3e-4},{"z":8.0e-9,"d":-3.2e-4},{"z":-3.2e-9,"d":-3.4e-4},{"z":6.7e-9,"d":-3.6e-4},{"z":-1.7e-9,"d":-3.5e-4},{"z":-5.2e-9,"d":-3.7e-4},{"z":2.5e-9,"d":-3.9e-4},{"z":-7.3e-9,"d":-3.8e-4},{"z":5.3e-9,"d":-4.0e-4},
{"z":-3.8e-9,"d":-4.2e-4},{"z":0.4e-9,"d":-4.1e-4},{"z":3.2e-9,"d":-4.3e-4},{"z":1.2e-9,"d":-4.5e-4},{"z":-0.9e-9,"d":-4.4e-4},{"z":7.5e-9,"d":-4.6e-4},{"z":-5.7e-9,"d":-4.8e-4},{"z":1.3e-9,"d":-4.7e-4},{"z":6.2e-9,"d":-4.9e-4},
{"z":-2.2e-9,"d":-5.1e-4},{"z":4.8e-9,"d":-5.0e-4},{"z":-6.4e-9,"d":-5.2e-4},{"z":4.2e-9,"d":-5.4e-4},{"z":-4.2e-9,"d":-5.3e-4},{"z":2.1e-9,"d":-5.5e-4},{"z":0.0e-9,"d":-5.7e-4},{"z":8.4e-9,"d":-5.6e-4},{"z":-2.8e-9,"d":-5.8e-4},
{"z":7.1e-9,"d":-6.0e-4},{"z":-1.3e-9,"d":-5.9e-4},{"z":-4.8e-9,"d":-6.1e-4},{"z":3.0e-9,"d":-6.3e-4},{"z":-6.8e-9,"d":-6.2e-4},{"z":5.8e-9,"d":-6.4e-4},{"z":-3.2e-9,"d":-6.6e-4},{"z":1.0e-9,"d":-6.5e-4},{"z":3.8e-9,"d":-6.7e-4},
{"z":1.8e-9,"d":-6.9e-4},{"z":-0.3e-9,"d":-6.8e-4},{"z":8.1e-9,"d":-7.0e-4},{"z":-5.1e-9,"d":-7.2e-4},{"z":1.9e-9,"d":-7.1e-4},{"z":6.8e-9,"d":-7.3e-4},{"z":-1.6e-9,"d":-7.5e-4},{"z":5.5e-9,"d":-7.4e-4},{"z":-5.8e-9,"d":-7.6e-4},
{"z":4.8e-9,"d":-7.8e-4},{"z":-3.6e-9,"d":-7.7e-4},{"z":2.7e-9,"d":-7.9e-4},{"z":0.7e-9,"d":-8.1e-4},{"z":9.1e-9,"d":-8.0e-4},{"z":-2.1e-9,"d":-8.2e-4},{"z":7.9e-9,"d":-8.4e-4},{"z":-0.5e-9,"d":-8.3e-4},{"z":-4.0e-9,"d":-8.5e-4},
{"z":3.8e-9,"d":-8.7e-4},{"z":-6.0e-9,"d":-8.6e-4},{"z":6.6e-9,"d":-8.8e-4},{"z":-2.6e-9,"d":-9.0e-4},{"z":1.6e-9,"d":-8.9e-4},{"z":4.4e-9,"d":-9.1e-4},{"z":2.4e-9,"d":-9.3e-4},{"z":0.3e-9,"d":-9.2e-4},{"z":8.7e-9,"d":-9.4e-4},
{"z":-4.6e-9,"d":-9.6e-4},{"z":2.5e-9,"d":-9.5e-4},{"z":7.4e-9,"d":-9.7e-4},{"z":-1.0e-9,"d":-9.9e-4},{"z":6.0e-9,"d":-9.8e-4},{"z":-5.2e-9,"d":-10.0e-4},{"z":5.4e-9,"d":-10.2e-4},{"z":-3.0e-9,"d":-10.1e-4},{"z":3.3e-9,"d":-10.3e-4},
{"z":1.3e-9,"d":-10.5e-4},{"z":9.7e-9,"d":-10.4e-4},{"z":-1.5e-9,"d":-10.6e-4},{"z":8.4e-9,"d":-10.8e-4},{"z":0.0e-9,"d":-10.7e-4},{"z":-3.5e-9,"d":-10.9e-4},{"z":4.3e-9,"d":-11.1e-4},{"z":-5.5e-9,"d":-11.0e-4},{"z":7.1e-9,"d":-11.2e-4},
{"z":-1.9e-9,"d":-11.4e-4},{"z":2.3e-9,"d":-11.3e-4},{"z":5.1e-9,"d":-11.5e-4},{"z":3.1e-9,"d":-11.7e-4},{"z":1.0e-9,"d":-11.6e-4},{"z":9.4e-9,"d":-11.8e-4},{"z":-3.8e-9,"d":-12.0e-4},{"z":3.2e-9,"d":-11.9e-4},{"z":8.1e-9,"d":-12.1e-4},
{"z":-0.2e-9,"d":-12.3e-4},{"z":6.9e-9,"d":-12.2e-4},{"z":-4.4e-9,"d":-12.4e-4},{"z":6.3e-9,"d":-12.6e-4},{"z":-2.1e-9,"d":-12.5e-4},{"z":4.2e-9,"d":-12.7e-4},{"z":2.3e-9,"d":-12.9e-4},{"z":10.7e-9,"d":-12.8e-4},{"z":-0.6e-9,"d":-13.0e-4},
{"z":9.4e-9,"d":-13.2e-4},{"z":1.0e-9,"d":-13.1e-4},{"z":-2.5e-9,"d":-13.3e-4},{"z":5.4e-9,"d":-13.5e-4},{"z":-4.4e-9,"d":-13.4e-4},{"z":8.2e-9,"d":-13.6e-4},{"z":-0.7e-9,"d":-13.8e-4},{"z":3.5e-9,"d":-13.7e-4},{"z":6.3e-9,"d":-13.9e-4},
{"z":4.4e-9,"d":-14.1e-4},{"z":2.3e-9,"d":-14.0e-4},{"z":10.7e-9,"d":-14.2e-4},
{"z":-9.0e-9,"d":12.15e-4},{"z":-2.0e-9,"d":12.25e-4},{"z":2.2e-9,"d":12.1e-4},{"z":-10.9e-9,"d":11.85e-4},{"z":-4.6e-9,"d":11.95e-4},{"z":-0.4e-9,"d":11.8e-4},{"z":-3.6e-9,"d":11.55e-4},{"z":1.3e-9,"d":11.65e-4},{"z":-9.2e-9,"d":11.5e-4},
{"z":-5.5e-9,"d":11.25e-4},{"z":3.6e-9,"d":11.35e-4},{"z":-7.6e-9,"d":11.2e-4},{"z":-0.4e-9,"d":10.95e-4},{"z":-9.5e-9,"d":11.05e-4},{"z":-2.5e-9,"d":10.9e-4},{"z":2.65e-9,"d":10.65e-4},{"z":-6.45e-9,"d":10.75e-4},{"z":-4.35e-9,"d":10.6e-4},
{"z":-5.75e-9,"d":10.35e-4},{"z":0.25e-9,"d":10.45e-4},{"z":5.25e-9,"d":10.3e-4},{"z":-1.1e-9,"d":10.05e-4},{"z":-10.2e-9,"d":10.15e-4},{"z":-5.3e-9,"d":10.0e-4},{"z":-7.3e-9,"d":9.75e-4},{"z":-0.3e-9,"d":9.85e-4},{"z":3.9e-9,"d":9.7e-4},
{"z":-9.2e-9,"d":9.45e-4},{"z":-2.9e-9,"d":9.55e-4},{"z":1.3e-9,"d":9.4e-4},{"z":-2.1e-9,"d":9.15e-4},{"z":2.8e-9,"d":9.25e-4},{"z":-7.7e-9,"d":9.1e-4},{"z":-4.0e-9,"d":8.85e-4},{"z":5.1e-9,"d":8.95e-4},{"z":-6.1e-9,"d":8.8e-4},
{"z":1.0e-9,"d":8.55e-4},{"z":-8.1e-9,"d":8.65e-4},{"z":-1.1e-9,"d":8.5e-4},{"z":4.0e-9,"d":8.25e-4},{"z":-5.1e-9,"d":8.35e-4},{"z":-3.0e-9,"d":8.2e-4},{"z":-4.5e-9,"d":7.95e-4},{"z":1.5e-9,"d":8.05e-4},{"z":6.5e-9,"d":7.9e-4},
{"z":0.0e-9,"d":7.65e-4},{"z":-9.1e-9,"d":7.75e-4},{"z":-4.2e-9,"d":7.6e-4},{"z":-6.2e-9,"d":7.35e-4},{"z":0.8e-9,"d":7.45e-4},{"z":5.0e-9,"d":7.3e-4},{"z":-8.2e-9,"d":7.05e-4},{"z":-1.9e-9,"d":7.15e-4},{"z":2.3e-9,"d":7.0e-4},
{"z":-1.15e-9,"d":6.75e-4},{"z":3.75e-9,"d":6.85e-4},{"z":-6.75e-9,"d":6.7e-4},{"z":-3.2e-9,"d":6.45e-4},{"z":5.9e-9,"d":6.55e-4},{"z":-5.3e-9,"d":6.4e-4},{"z":1.8e-9,"d":6.15e-4},{"z":-7.3e-9,"d":6.25e-4},{"z":-0.3e-9,"d":6.1e-4},
{"z":4.65e-9,"d":5.85e-4},{"z":-4.45e-9,"d":5.95e-4},{"z":-2.35e-9,"d":5.8e-4},{"z":-3.9e-9,"d":5.55e-4},{"z":2.1e-9,"d":5.65e-4},{"z":7.1e-9,"d":5.5e-4},{"z":0.55e-9,"d":5.25e-4},{"z":-8.55e-9,"d":5.35e-4},{"z":-3.65e-9,"d":5.2e-4},
{"z":-5.7e-9,"d":4.95e-4},{"z":1.3e-9,"d":5.05e-4},{"z":5.5e-9,"d":4.9e-4},{"z":-7.7e-9,"d":4.65e-4},{"z":-1.4e-9,"d":4.75e-4},{"z":2.8e-9,"d":4.6e-4},{"z":-0.65e-9,"d":4.35e-4},{"z":4.25e-9,"d":4.45e-4},{"z":-6.25e-9,"d":4.3e-4},
{"z":-2.7e-9,"d":4.05e-4},{"z":6.4e-9,"d":4.15e-4},{"z":-4.8e-9,"d":4.0e-4},{"z":2.25e-9,"d":3.75e-4},{"z":-6.85e-9,"d":3.85e-4},{"z":0.15e-9,"d":3.7e-4},{"z":5.1e-9,"d":3.45e-4},{"z":-4.0e-9,"d":3.55e-4},{"z":-1.9e-9,"d":3.4e-4},
{"z":-3.45e-9,"d":3.15e-4},{"z":2.55e-9,"d":3.25e-4},{"z":7.55e-9,"d":3.1e-4},{"z":1.0e-9,"d":2.85e-4},{"z":-8.1e-9,"d":2.95e-4},{"z":-3.2e-9,"d":2.8e-4},{"z":-5.25e-9,"d":2.55e-4},{"z":1.75e-9,"d":2.65e-4},{"z":5.95e-9,"d":2.5e-4},
{"z":-7.3e-9,"d":2.25e-4},{"z":-1.0e-9,"d":2.35e-4},{"z":3.2e-9,"d":2.2e-4},{"z":-0.3e-9,"d":1.95e-4},{"z":4.6e-9,"d":2.05e-4},{"z":-5.9e-9,"d":1.9e-4},{"z":-2.3e-9,"d":1.65e-4},{"z":6.8e-9,"d":1.75e-4},{"z":-4.4e-9,"d":1.6e-4},
{"z":2.6e-9,"d":1.35e-4},{"z":-6.5e-9,"d":1.45e-4},{"z":0.5e-9,"d":1.3e-4},{"z":5.5e-9,"d":1.05e-4},{"z":-3.6e-9,"d":1.15e-4},{"z":-1.5e-9,"d":1.0e-4},{"z":-3.1e-9,"d":0.75e-4},{"z":2.9e-9,"d":0.85e-4},{"z":7.9e-9,"d":0.7e-4},
{"z":1.4e-9,"d":0.45e-4},{"z":-7.7e-9,"d":0.55e-4},{"z":-2.8e-9,"d":0.4e-4},{"z":-4.9e-9,"d":0.15e-4},{"z":2.1e-9,"d":0.25e-4},{"z":6.3e-9,"d":0.1e-4},{"z":-7.0e-9,"d":-0.15e-4},{"z":-0.7e-9,"d":-0.05e-4},{"z":3.5e-9,"d":-0.2e-4},
{"z":0.0e-9,"d":-0.45e-4},{"z":4.9e-9,"d":-0.35e-4},{"z":-5.6e-9,"d":-0.5e-4},{"z":-2.0e-9,"d":-0.75e-4},{"z":7.1e-9,"d":-0.65e-4},{"z":-4.1e-9,"d":-0.8e-4},{"z":2.9e-9,"d":-1.05e-4},{"z":-6.2e-9,"d":-0.95e-4},{"z":0.8e-9,"d":-1.1e-4},
{"z":5.7e-9,"d":-1.35e-4},{"z":-3.4e-9,"d":-1.25e-4},{"z":-1.3e-9,"d":-1.4e-4},{"z":-2.8e-9,"d":-1.65e-4},{"z":3.2e-9,"d":-1.55e-4},{"z":8.2e-9,"d":-1.7e-4},{"z":1.6e-9,"d":-1.95e-4},{"z":-7.5e-9,"d":-1.85e-4},{"z":-2.6e-9,"d":-2.0e-4},
{"z":-4.7e-9,"d":-2.25e-4},{"z":2.3e-9,"d":-2.15e-4},{"z":6.5e-9,"d":-2.3e-4},{"z":-6.7e-9,"d":-2.55e-4},{"z":-0.4e-9,"d":-2.45e-4},{"z":3.8e-9,"d":-2.6e-4},{"z":0.3e-9,"d":-2.85e-4},{"z":5.2e-9,"d":-2.75e-4},{"z":-5.3e-9,"d":-2.9e-4},
{"z":-1.8e-9,"d":-3.15e-4},{"z":7.3e-9,"d":-3.05e-4},{"z":-3.9e-9,"d":-3.2e-4},{"z":3.1e-9,"d":-3.45e-4},{"z":-6.0e-9,"d":-3.35e-4},{"z":1.0e-9,"d":-3.5e-4},{"z":6.0e-9,"d":-3.75e-4},{"z":-3.1e-9,"d":-3.65e-4},{"z":-1.0e-9,"d":-3.8e-4},
{"z":-2.6e-9,"d":-4.05e-4},{"z":3.4e-9,"d":-3.95e-4},{"z":8.4e-9,"d":-4.1e-4},{"z":1.9e-9,"d":-4.35e-4},{"z":-7.2e-9,"d":-4.25e-4},{"z":-2.3e-9,"d":-4.4e-4},{"z":-4.4e-9,"d":-4.65e-4},{"z":2.6e-9,"d":-4.55e-4},{"z":6.8e-9,"d":-4.7e-4},
{"z":-6.4e-9,"d":-4.95e-4},{"z":-0.1e-9,"d":-4.85e-4},{"z":4.1e-9,"d":-5.0e-4},{"z":0.7e-9,"d":-5.25e-4},{"z":5.6e-9,"d":-5.15e-4},{"z":-4.9e-9,"d":-5.3e-4},{"z":-1.4e-9,"d":-5.55e-4},{"z":7.7e-9,"d":-5.45e-4},{"z":-3.5e-9,"d":-5.6e-4},
{"z":3.6e-9,"d":-5.85e-4},{"z":-5.5e-9,"d":-5.75e-4},{"z":1.5e-9,"d":-5.9e-4},{"z":6.4e-9,"d":-6.15e-4},{"z":-2.7e-9,"d":-6.05e-4},{"z":-0.6e-9,"d":-6.2e-4},{"z":-2.1e-9,"d":-6.45e-4},{"z":3.9e-9,"d":-6.35e-4},{"z":8.9e-9,"d":-6.5e-4},
{"z":2.4e-9,"d":-6.75e-4},{"z":-6.7e-9,"d":-6.65e-4},{"z":-1.8e-9,"d":-6.8e-4},{"z":-3.8e-9,"d":-7.05e-4},{"z":3.2e-9,"d":-6.95e-4},{"z":7.4e-9,"d":-7.1e-4},{"z":-5.8e-9,"d":-7.35e-4},{"z":0.5e-9,"d":-7.25e-4},{"z":4.7e-9,"d":-7.4e-4},
{"z":1.3e-9,"d":-7.65e-4},{"z":6.2e-9,"d":-7.55e-4},{"z":-4.3e-9,"d":-7.7e-4},{"z":-0.7e-9,"d":-7.95e-4},{"z":8.4e-9,"d":-7.85e-4},{"z":-2.8e-9,"d":-8.0e-4},{"z":4.3e-9,"d":-8.25e-4},{"z":-4.8e-9,"d":-8.15e-4},{"z":2.2e-9,"d":-8.3e-4},
{"z":7.2e-9,"d":-8.55e-4},{"z":-1.9e-9,"d":-8.45e-4},{"z":0.2e-9,"d":-8.6e-4},{"z":-1.4e-9,"d":-8.85e-4},{"z":4.6e-9,"d":-8.75e-4},{"z":9.6e-9,"d":-8.9e-4},{"z":3.1e-9,"d":-9.15e-4},{"z":-6.0e-9,"d":-9.05e-4},{"z":-1.1e-9,"d":-9.2e-4},
{"z":-3.2e-9,"d":-9.45e-4},{"z":3.8e-9,"d":-9.35e-4},{"z":8.0e-9,"d":-9.5e-4},{"z":-5.2e-9,"d":-9.75e-4},{"z":1.1e-9,"d":-9.65e-4},{"z":5.3e-9,"d":-9.8e-4},{"z":1.85e-9,"d":-10.05e-4},{"z":6.75e-9,"d":-9.95e-4},{"z":-3.75e-9,"d":-10.1e-4},
{"z":-0.15e-9,"d":-10.35e-4},{"z":8.95e-9,"d":-10.25e-4},{"z":-2.25e-9,"d":-10.4e-4},{"z":4.85e-9,"d":-10.65e-4},{"z":-4.25e-9,"d":-10.55e-4},{"z":2.75e-9,"d":-10.7e-4},{"z":7.75e-9,"d":-10.95e-4},{"z":-1.35e-9,"d":-10.85e-4},{"z":0.75e-9,"d":-11.0e-4},
{"z":-0.75e-9,"d":-11.25e-4},{"z":5.25e-9,"d":-11.15e-4},{"z":10.25e-9,"d":-11.3e-4},{"z":3.75e-9,"d":-11.55e-4},{"z":-5.35e-9,"d":-11.45e-4},{"z":-0.45e-9,"d":-11.6e-4},{"z":-2.45e-9,"d":-11.85e-4},{"z":4.55e-9,"d":-11.75e-4},{"z":8.75e-9,"d":-11.9e-4},
{"z":-4.45e-9,"d":-12.15e-4},{"z":1.85e-9,"d":-12.05e-4},{"z":6.05e-9,"d":-12.2e-4},{"z":2.7e-9,"d":-12.45e-4},{"z":7.6e-9,"d":-12.35e-4},{"z":-2.9e-9,"d":-12.5e-4},{"z":0.75e-9,"d":-12.75e-4},{"z":9.85e-9,"d":-12.65e-4},{"z":-1.35e-9,"d":-12.8e-4},
{"z":5.8e-9,"d":-13.05e-4},{"z":-3.3e-9,"d":-12.95e-4},{"z":3.7e-9,"d":-13.1e-4},{"z":8.8e-9,"d":-13.35e-4},{"z":-0.3e-9,"d":-13.25e-4},{"z":1.8e-9,"d":-13.4e-4},{"z":0.4e-9,"d":-13.65e-4},{"z":6.4e-9,"d":-13.55e-4},{"z":11.4e-9,"d":-13.7e-4},
{"z":5.0e-9,"d":-13.95e-4},{"z":-4.1e-9,"d":-13.85e-4},{"z":0.8e-9,"d":-14.0e-4},
{"z":-7.5e-9,"d":12.05e-4},{"z":-1.5e-9,"d":12.05e-4},{"z":0.2e-9,"d":11.75e-4},{"z":-4.8e-9,"d":11.75e-4},{"z":-9.55e-9,"d":11.45e-4},{"z":-3.05e-9,"d":11.45e-4},{"z":-1.8e-9,"d":11.15e-4},{"z":-7.8e-9,"d":11.15e-4},
{"z":3.4e-9,"d":10.85e-4},{"z":-5.1e-9,"d":10.85e-4},{"z":-4.4e-9,"d":10.55e-4},{"z":0.1e-9,"d":10.55e-4},{"z":-11.2e-9,"d":10.25e-4},{"z":2.3e-9,"d":10.25e-4},{"z":-2.5e-9,"d":9.95e-4},{"z":5.5e-9,"d":9.95e-4},
{"z":-5.85e-9,"d":9.65e-4},{"z":0.15e-9,"d":9.65e-4},{"z":1.8e-9,"d":9.35e-4},{"z":-3.2e-9,"d":9.35e-4},{"z":-8.0e-9,"d":9.05e-4},{"z":-1.5e-9,"d":9.05e-4},{"z":-0.4e-9,"d":8.75e-4},{"z":-6.4e-9,"d":8.75e-4},
{"z":4.8e-9,"d":8.45e-4},{"z":-3.7e-9,"d":8.45e-4},{"z":-3.1e-9,"d":8.15e-4},{"z":1.4e-9,"d":8.15e-4},{"z":-9.95e-9,"d":7.85e-4},{"z":3.55e-9,"d":7.85e-4},{"z":-1.35e-9,"d":7.55e-4},{"z":6.65e-9,"d":7.55e-4},
{"z":-4.8e-9,"d":7.25e-4},{"z":1.2e-9,"d":7.25e-4},{"z":2.8e-9,"d":6.95e-4},{"z":-2.2e-9,"d":6.95e-4},{"z":-7.1e-9,"d":6.65e-4},{"z":-0.6e-9,"d":6.65e-4},{"z":0.45e-9,"d":6.35e-4},{"z":-5.55e-9,"d":6.35e-4},
{"z":5.5e-9,"d":6.05e-4},{"z":-3.0e-9,"d":6.05e-4},{"z":-2.45e-9,"d":5.75e-4},{"z":2.05e-9,"d":5.75e-4},{"z":-9.4e-9,"d":5.45e-4},{"z":4.1e-9,"d":5.45e-4},{"z":-0.8e-9,"d":5.15e-4},{"z":7.2e-9,"d":5.15e-4},
{"z":-4.25e-9,"d":4.85e-4},{"z":1.75e-9,"d":4.85e-4},{"z":3.3e-9,"d":4.55e-4},{"z":-1.7e-9,"d":4.55e-4},{"z":-6.65e-9,"d":4.25e-4},{"z":-0.15e-9,"d":4.25e-4},{"z":0.9e-9,"d":3.95e-4},{"z":-5.1e-9,"d":3.95e-4},
{"z":6.0e-9,"d":3.65e-4},{"z":-2.5e-9,"d":3.65e-4},{"z":-1.95e-9,"d":3.35e-4},{"z":2.55e-9,"d":3.35e-4},{"z":-8.9e-9,"d":3.05e-4},{"z":4.6e-9,"d":3.05e-4},{"z":-0.4e-9,"d":2.75e-4},{"z":7.6e-9,"d":2.75e-4},
{"z":-3.85e-9,"d":2.45e-4},{"z":2.15e-9,"d":2.45e-4},{"z":3.7e-9,"d":2.15e-4},{"z":-1.3e-9,"d":2.15e-4},{"z":-6.25e-9,"d":1.85e-4},{"z":0.25e-9,"d":1.85e-4},{"z":1.3e-9,"d":1.55e-4},{"z":-4.7e-9,"d":1.55e-4},
{"z":6.35e-9,"d":1.25e-4},{"z":-2.15e-9,"d":1.25e-4},{"z":-1.6e-9,"d":0.95e-4},{"z":2.9e-9,"d":0.95e-4},{"z":-8.55e-9,"d":0.65e-4},{"z":4.95e-9,"d":0.65e-4},{"z":0.0e-9,"d":0.35e-4},{"z":8.0e-9,"d":0.35e-4},
{"z":-3.5e-9,"d":0.05e-4},{"z":2.5e-9,"d":0.05e-4},{"z":4.0e-9,"d":-0.25e-4},{"z":-1.0e-9,"d":-0.25e-4},{"z":-5.95e-9,"d":-0.55e-4},{"z":0.55e-9,"d":-0.55e-4},{"z":1.6e-9,"d":-0.85e-4},{"z":-4.4e-9,"d":-0.85e-4},
{"z":6.6e-9,"d":-1.15e-4},{"z":-1.9e-9,"d":-1.15e-4},{"z":-1.35e-9,"d":-1.45e-4},{"z":3.15e-9,"d":-1.45e-4},{"z":-8.3e-9,"d":-1.75e-4},{"z":5.2e-9,"d":-1.75e-4},{"z":0.2e-9,"d":-2.05e-4},{"z":8.2e-9,"d":-2.05e-4},
{"z":-3.25e-9,"d":-2.35e-4},{"z":2.75e-9,"d":-2.35e-4},{"z":4.25e-9,"d":-2.65e-4},{"z":-0.75e-9,"d":-2.65e-4},{"z":-5.7e-9,"d":-2.95e-4},{"z":0.8e-9,"d":-2.95e-4},{"z":1.8e-9,"d":-3.25e-4},{"z":-4.2e-9,"d":-3.25e-4},
{"z":6.85e-9,"d":-3.55e-4},{"z":-1.65e-9,"d":-3.55e-4},{"z":-1.1e-9,"d":-3.85e-4},{"z":3.4e-9,"d":-3.85e-4},{"z":-8.05e-9,"d":-4.15e-4},{"z":5.45e-9,"d":-4.15e-4},{"z":0.5e-9,"d":-4.45e-4},{"z":8.5e-9,"d":-4.45e-4},
{"z":-2.95e-9,"d":-4.75e-4},{"z":3.05e-9,"d":-4.75e-4},{"z":4.6e-9,"d":-5.05e-4},{"z":-0.4e-9,"d":-5.05e-4},{"z":-5.35e-9,"d":-5.35e-4},{"z":1.15e-9,"d":-5.35e-4},{"z":2.25e-9,"d":-5.65e-4},{"z":-3.75e-9,"d":-5.65e-4},
{"z":7.3e-9,"d":-5.95e-4},{"z":-1.2e-9,"d":-5.95e-4},{"z":-0.65e-9,"d":-6.25e-4},{"z":3.85e-9,"d":-6.25e-4},{"z":-7.55e-9,"d":-6.55e-4},{"z":5.95e-9,"d":-6.55e-4},{"z":1.05e-9,"d":-6.85e-4},{"z":9.05e-9,"d":-6.85e-4},
{"z":-2.35e-9,"d":-7.15e-4},{"z":3.65e-9,"d":-7.15e-4},{"z":5.2e-9,"d":-7.45e-4},{"z":0.2e-9,"d":-7.45e-4},{"z":-4.7e-9,"d":-7.75e-4},{"z":1.8e-9,"d":-7.75e-4},{"z":2.95e-9,"d":-8.05e-4},{"z":-3.05e-9,"d":-8.05e-4},
{"z":8.05e-9,"d":-8.35e-4},{"z":-0.45e-9,"d":-8.35e-4},{"z":0.1e-9,"d":-8.65e-4},{"z":4.6e-9,"d":-8.65e-4},{"z":-6.85e-9,"d":-8.95e-4},{"z":6.65e-9,"d":-8.95e-4},{"z":1.7e-9,"d":-9.25e-4},{"z":9.7e-9,"d":-9.25e-4},
{"z":-1.75e-9,"d":-9.55e-4},{"z":4.25e-9,"d":-9.55e-4},{"z":5.8e-9,"d":-9.85e-4},{"z":0.8e-9,"d":-9.85e-4},{"z":-4.1e-9,"d":-10.15e-4},{"z":2.4e-9,"d":-10.15e-4},{"z":3.5e-9,"d":-10.45e-4},{"z":-2.5e-9,"d":-10.45e-4},
{"z":8.6e-9,"d":-10.75e-4},{"z":0.1e-9,"d":-10.75e-4},{"z":0.7e-9,"d":-11.05e-4},{"z":5.2e-9,"d":-11.05e-4},{"z":-6.2e-9,"d":-11.35e-4},{"z":7.3e-9,"d":-11.35e-4},{"z":2.4e-9,"d":-11.65e-4},{"z":10.4e-9,"d":-11.65e-4},
{"z":-1.0e-9,"d":-11.95e-4},{"z":5.0e-9,"d":-11.95e-4},{"z":6.6e-9,"d":-12.25e-4},{"z":1.6e-9,"d":-12.25e-4},{"z":-3.2e-9,"d":-12.55e-4},{"z":3.3e-9,"d":-12.55e-4},{"z":4.4e-9,"d":-12.85e-4},{"z":-1.6e-9,"d":-12.85e-4},
{"z":9.6e-9,"d":-13.15e-4},{"z":1.1e-9,"d":-13.15e-4},{"z":1.8e-9,"d":-13.45e-4},{"z":6.3e-9,"d":-13.45e-4},{"z":-5.0e-9,"d":-13.75e-4},{"z":8.5e-9,"d":-13.75e-4},
{"z":-4.0e-9,"d":-14.1e-4},{"z":-3.75e-9,"d":-15.3e-4},{"z":-3.5e-9,"d":-16.0e-4},{"z":-3.25e-9,"d":-14.6e-4},{"z":-3.0e-9,"d":-15.9e-4},{"z":-2.75e-9,"d":-14.15e-4},{"z":-2.5e-9,"d":-15.1e-4},{"z":-2.25e-9,"d":-16.1e-4},
{"z":-2.0e-9,"d":-14.9e-4},{"z":-1.75e-9,"d":-16.6e-4},{"z":-1.5e-9,"d":-14.7e-4},{"z":-1.25e-9,"d":-15.7e-4},{"z":-1.0e-9,"d":-17.1e-4},{"z":-0.75e-9,"d":-15.35e-4},{"z":-0.5e-9,"d":-14.7e-4},{"z":-0.25e-9,"d":-16.4e-4},
{"z":0.0e-9,"d":-15.7e-4},{"z":0.25e-9,"d":-17.05e-4},{"z":0.5e-9,"d":-14.35e-4},{"z":0.75e-9,"d":-16.15e-4},{"z":1.0e-9,"d":-16.9e-4},{"z":1.25e-9,"d":-15.15e-4},{"z":1.5e-9,"d":-17.8e-4},{"z":1.75e-9,"d":-14.45e-4},
{"z":2.0e-9,"d":-14.6e-4},{"z":2.25e-9,"d":-17.0e-4},{"z":2.5e-9,"d":-18.4e-4},{"z":2.75e-9,"d":-15.6e-4},{"z":3.0e-9,"d":-17.9e-4},{"z":3.25e-9,"d":-14.45e-4},{"z":3.5e-9,"d":-16.4e-4},{"z":3.75e-9,"d":-18.3e-4},
{"z":4.0e-9,"d":-15.65e-4},{"z":4.25e-9,"d":-18.9e-4},{"z":4.5e-9,"d":-15.2e-4},{"z":4.75e-9,"d":-17.25e-4},{"z":5.0e-9,"d":-19.35e-4},{"z":5.25e-9,"d":-16.2e-4},{"z":5.5e-9,"d":-15.0e-4},{"z":5.75e-9,"d":-18.15e-4},
{"z":6.0e-9,"d":-16.6e-4},{"z":6.25e-9,"d":-18.85e-4},{"z":6.5e-9,"d":-14.35e-4},{"z":6.75e-9,"d":-17.35e-4},{"z":7.0e-9,"d":-18.3e-4},{"z":7.25e-9,"d":-15.7e-4},{"z":7.5e-9,"d":-19.6e-4},{"z":7.75e-9,"d":-14.65e-4},
{"z":8.0e-9,"d":-14.95e-4},{"z":8.25e-9,"d":-18.2e-4},{"z":8.5e-9,"d":-20.1e-4},{"z":8.75e-9,"d":-16.3e-4},{"z":9.0e-9,"d":-19.15e-4},{"z":9.25e-9,"d":-14.75e-4},{"z":9.5e-9,"d":-17.2e-4},{"z":9.75e-9,"d":-19.7e-4},
{"z":10.0e-9,"d":-16.2e-4},{"z":10.25e-9,"d":-20.1e-4},{"z":10.5e-9,"d":-15.65e-4},{"z":10.75e-9,"d":-18.15e-4},{"z":11.0e-9,"d":-20.5e-4},{"z":11.25e-9,"d":-16.85e-4},{"z":11.5e-9,"d":-15.45e-4},{"z":11.75e-9,"d":-19.1e-4},
{"z":12.0e-9,"d":-17.25e-4},{"z":12.25e-9,"d":-19.75e-4},{"z":12.5e-9,"d":-14.7e-4},{"z":12.75e-9,"d":-18.1e-4},{"z":13.0e-9,"d":-19.0e-4},{"z":13.25e-9,"d":-16.25e-4},{"z":13.5e-9,"d":-20.4e-4},{"z":13.75e-9,"d":-15.15e-4},
{"z":14.0e-9,"d":-15.55e-4},{"z":14.25e-9,"d":-18.8e-4},{"z":14.5e-9,"d":-20.7e-4},{"z":14.75e-9,"d":-16.9e-4},{"z":15.0e-9,"d":-19.7e-4},{"z":15.25e-9,"d":-15.45e-4},{"z":15.5e-9,"d":-17.85e-4},{"z":15.75e-9,"d":-20.2e-4},
{"z":16.0e-9,"d":-16.9e-4},{"z":16.25e-9,"d":-20.55e-4},{"z":16.5e-9,"d":-16.4e-4},{"z":16.75e-9,"d":-18.7e-4},{"z":17.0e-9,"d":-20.85e-4},{"z":17.25e-9,"d":-17.55e-4},{"z":17.5e-9,"d":-16.25e-4},{"z":17.75e-9,"d":-19.6e-4},
{"z":18.0e-9,"d":-17.9e-4},{"z":18.25e-9,"d":-20.15e-4},{"z":18.5e-9,"d":-15.65e-4},{"z":18.75e-9,"d":-18.65e-4},{"z":19.0e-9,"d":-19.4e-4},{"z":19.25e-9,"d":-16.95e-4},{"z":19.5e-9,"d":-20.65e-4},{"z":19.75e-9,"d":-16.0e-4},
{"z":20.0e-9,"d":-16.35e-4},{"z":20.25e-9,"d":-19.2e-4},{"z":20.5e-9,"d":-20.9e-4},{"z":20.75e-9,"d":-17.55e-4},{"z":21.0e-9,"d":-19.95e-4},{"z":21.25e-9,"d":-16.2e-4},{"z":21.5e-9,"d":-18.3e-4},{"z":21.75e-9,"d":-20.45e-4},
{"z":22.0e-9,"d":-17.45e-4},{"z":22.25e-9,"d":-20.65e-4},{"z":22.5e-9,"d":-16.95e-4},{"z":22.75e-9,"d":-19.05e-4},{"z":23.0e-9,"d":-20.9e-4},{"z":23.25e-9,"d":-17.95e-4},{"z":23.5e-9,"d":-16.85e-4},{"z":23.75e-9,"d":-19.8e-4},
{"z":24.0e-9,"d":-18.25e-4},{"z":24.25e-9,"d":-20.25e-4},{"z":24.5e-9,"d":-16.3e-4},{"z":24.75e-9,"d":-18.9e-4},
{"z":-3.9e-9,"d":-16.0e-4},{"z":-3.65e-9,"d":-14.7e-4},{"z":-3.4e-9,"d":-14.2e-4},{"z":-3.15e-9,"d":-15.5e-4},{"z":-2.9e-9,"d":-15.03e-4},{"z":-2.65e-9,"d":-16.02e-4},{"z":-2.4e-9,"d":-14.04e-4},{"z":-2.15e-9,"d":-15.36e-4},
{"z":-1.9e-9,"d":-15.98e-4},{"z":-1.65e-9,"d":-14.78e-4},{"z":-1.4e-9,"d":-16.58e-4},{"z":-1.15e-9,"d":-14.3e-4},{"z":-0.9e-9,"d":-14.54e-4},{"z":-0.65e-9,"d":-16.16e-4},{"z":-0.4e-9,"d":-17.1e-4},{"z":-0.15e-9,"d":-15.21e-4},
{"z":0.1e-9,"d":-16.9e-4},{"z":0.35e-9,"d":-14.5e-4},{"z":0.6e-9,"d":-15.85e-4},{"z":0.85e-9,"d":-17.2e-4},{"z":1.1e-9,"d":-15.33e-4},{"z":1.35e-9,"d":-17.78e-4},{"z":1.6e-9,"d":-14.98e-4},{"z":1.85e-9,"d":-16.55e-4},
{"z":2.1e-9,"d":-18.4e-4},{"z":2.35e-9,"d":-15.8e-4},{"z":2.6e-9,"d":-14.8e-4},{"z":2.85e-9,"d":-17.4e-4},{"z":3.1e-9,"d":-16.17e-4},{"z":3.35e-9,"d":-18.11e-4},{"z":3.6e-9,"d":-14.24e-4},{"z":3.85e-9,"d":-16.82e-4},
{"z":4.1e-9,"d":-17.72e-4},{"z":4.35e-9,"d":-15.42e-4},{"z":4.6e-9,"d":-18.87e-4},{"z":4.85e-9,"d":-14.5e-4},{"z":5.1e-9,"d":-14.79e-4},{"z":5.35e-9,"d":-17.67e-4},{"z":5.6e-9,"d":-19.35e-4},{"z":5.85e-9,"d":-15.99e-4},
{"z":6.1e-9,"d":-18.6e-4},{"z":6.35e-9,"d":-14.6e-4},{"z":6.6e-9,"d":-16.85e-4},{"z":6.85e-9,"d":-19.1e-4},{"z":7.1e-9,"d":-15.95e-4},{"z":7.35e-9,"d":-19.59e-4},{"z":7.6e-9,"d":-15.43e-4},{"z":7.85e-9,"d":-17.77e-4},
{"z":8.1e-9,"d":-20.1e-4},{"z":8.35e-9,"d":-16.59e-4},{"z":8.6e-9,"d":-15.24e-4},{"z":8.85e-9,"d":-18.75e-4},{"z":9.1e-9,"d":-16.95e-4},{"z":9.35e-9,"d":-19.43e-4},{"z":9.6e-9,"d":-14.48e-4},{"z":9.85e-9,"d":-17.78e-4},
{"z":10.1e-9,"d":-18.72e-4},{"z":10.35e-9,"d":-15.92e-4},{"z":10.6e-9,"d":-20.12e-4},{"z":10.85e-9,"d":-14.8e-4},{"z":11.1e-9,"d":-15.18e-4},{"z":11.35e-9,"d":-18.54e-4},{"z":11.6e-9,"d":-20.5e-4},{"z":11.85e-9,"d":-16.58e-4},
{"z":12.1e-9,"d":-19.48e-4},{"z":12.35e-9,"d":-15.0e-4},{"z":12.6e-9,"d":-17.52e-4},{"z":12.85e-9,"d":-20.04e-4},{"z":13.1e-9,"d":-16.53e-4},{"z":13.35e-9,"d":-20.38e-4},{"z":13.6e-9,"d":-15.98e-4},{"z":13.85e-9,"d":-18.45e-4},
{"z":14.1e-9,"d":-20.7e-4},{"z":14.35e-9,"d":-17.19e-4},{"z":14.6e-9,"d":-15.84e-4},{"z":14.85e-9,"d":-19.35e-4},{"z":15.1e-9,"d":-17.57e-4},{"z":15.35e-9,"d":-19.96e-4},{"z":15.6e-9,"d":-15.19e-4},{"z":15.85e-9,"d":-18.37e-4},
{"z":16.1e-9,"d":-19.24e-4},{"z":16.35e-9,"d":-16.64e-4},{"z":16.6e-9,"d":-20.54e-4},{"z":16.85e-9,"d":-15.6e-4},{"z":17.1e-9,"d":-16.0e-4},{"z":17.35e-9,"d":-19.07e-4},{"z":17.6e-9,"d":-20.85e-4},{"z":17.85e-9,"d":-17.28e-4},
{"z":18.1e-9,"d":-19.9e-4},{"z":18.35e-9,"d":-15.9e-4},{"z":18.6e-9,"d":-18.15e-4},{"z":18.85e-9,"d":-20.4e-4},{"z":19.1e-9,"d":-17.23e-4},{"z":19.35e-9,"d":-20.66e-4},{"z":19.6e-9,"d":-16.74e-4},{"z":19.85e-9,"d":-18.94e-4},
{"z":20.1e-9,"d":-20.9e-4},{"z":20.35e-9,"d":-17.78e-4},{"z":20.6e-9,"d":-16.58e-4},{"z":20.85e-9,"d":-19.7e-4},{"z":21.1e-9,"d":-18.08e-4},{"z":21.35e-9,"d":-20.2e-4},{"z":21.6e-9,"d":-15.97e-4},{"z":21.85e-9,"d":-18.79e-4},
{"z":22.1e-9,"d":-19.52e-4},{"z":22.35e-9,"d":-17.22e-4},{"z":22.6e-9,"d":-20.67e-4},{"z":22.85e-9,"d":-16.3e-4},{"z":23.1e-9,"d":-16.63e-4},{"z":23.35e-9,"d":-19.33e-4},{"z":23.6e-9,"d":-20.9e-4},{"z":23.85e-9,"d":-17.75e-4},
{"z":24.1e-9,"d":-20.02e-4},{"z":24.35e-9,"d":-16.5e-4},{"z":24.6e-9,"d":-18.48e-4},{"z":24.85e-9,"d":-20.46e-4},
{"z":0.5e-9,"d":-15.59e-4},{"z":0.5e-9,"d":-16.59e-4},{"z":1.5e-9,"d":-15.73e-4},{"z":1.5e-9,"d":-16.97e-4},{"z":2.5e-9,"d":-15.87e-4},{"z":2.5e-9,"d":-17.24e-4},{"z":3.5e-9,"d":-16.04e-4},{"z":3.5e-9,"d":-17.47e-4},{"z":4.5e-9,"d":-16.2e-4},{"z":4.5e-9,"d":-17.72e-4},
{"z":5.5e-9,"d":-16.27e-4},{"z":5.5e-9,"d":-17.86e-4},{"z":6.5e-9,"d":-16.44e-4},{"z":6.5e-9,"d":-18.09e-4},{"z":7.5e-9,"d":-16.51e-4},{"z":7.5e-9,"d":-18.23e-4},{"z":8.5e-9,"d":-16.64e-4},{"z":8.5e-9,"d":-18.4e-4},{"z":9.5e-9,"d":-16.71e-4},{"z":9.5e-9,"d":-18.53e-4},
{"z":10.5e-9,"d":-16.81e-4},{"z":10.5e-9,"d":-18.63e-4},{"z":11.5e-9,"d":-16.91e-4},{"z":11.5e-9,"d":-18.73e-4},{"z":12.5e-9,"d":-17.01e-4},{"z":12.5e-9,"d":-18.83e-4},{"z":13.5e-9,"d":-17.14e-4},{"z":13.5e-9,"d":-18.9e-4},{"z":14.5e-9,"d":-17.24e-4},{"z":14.5e-9,"d":-19.0e-4},
{"z":15.5e-9,"d":-17.37e-4},{"z":15.5e-9,"d":-19.06e-4},{"z":16.5e-9,"d":-17.47e-4},{"z":16.5e-9,"d":-19.16e-4},{"z":17.5e-9,"d":-17.6e-4},{"z":17.5e-9,"d":-19.23e-4},{"z":18.5e-9,"d":-17.67e-4},{"z":18.5e-9,"d":-19.3e-4},{"z":19.5e-9,"d":-17.75e-4},{"z":19.5e-9,"d":-19.31e-4},
{"z":20.5e-9,"d":-17.8e-4},{"z":20.5e-9,"d":-19.36e-4},{"z":21.5e-9,"d":-17.88e-4},{"z":21.5e-9,"d":-19.38e-4},{"z":22.5e-9,"d":-17.93e-4},{"z":22.5e-9,"d":-19.43e-4},{"z":23.5e-9,"d":-18.01e-4},{"z":23.5e-9,"d":-19.44e-4},{"z":24.5e-9,"d":-18.04e-4},{"z":24.5e-9,"d":-19.47e-4},
{"z":25e-9,"d":-18.30e-4},{"z":25.5e-9,"d":-20.49e-4},{"z":26e-9,"d":-17.34e-4},{"z":26.5e-9,"d":-19.30e-4},{"z":27e-9,"d":-16.80e-4},{"z":27.5e-9,"d":-19.87e-4},{"z":28e-9,"d":-17.98e-4},{"z":28.5e-9,"d":-20.60e-4},{"z":29e-9,"d":-17.27e-4},{"z":29.5e-9,"d":-18.93e-4},
{"z":30e-9,"d":-19.65e-4},{"z":30.5e-9,"d":-17.14e-4},{"z":31e-9,"d":-20.14e-4},{"z":31.5e-9,"d":-18.19e-4},{"z":32e-9,"d":-18.69e-4},{"z":32.5e-9,"d":-19.88e-4},{"z":33e-9,"d":-17.64e-4},{"z":33.5e-9,"d":-19.32e-4},{"z":34e-9,"d":-16.80e-4},{"z":34.5e-9,"d":-18.95e-4},
{"z":35e-9,"d":-18.27e-4},{"z":35.5e-9,"d":-20.02e-4},{"z":36e-9,"d":-17.43e-4},{"z":36.5e-9,"d":-18.98e-4},{"z":37e-9,"d":-16.92e-4},{"z":37.5e-9,"d":-19.37e-4},{"z":38e-9,"d":-17.81e-4},{"z":38.5e-9,"d":-19.89e-4},{"z":39e-9,"d":-17.17e-4},{"z":39.5e-9,"d":-18.48e-4},
{"z":40e-9,"d":-19.03e-4},{"z":40.5e-9,"d":-16.96e-4},{"z":41e-9,"d":-19.36e-4},{"z":41.5e-9,"d":-17.74e-4},{"z":42e-9,"d":-18.12e-4},{"z":42.5e-9,"d":-19.08e-4},{"z":43e-9,"d":-17.18e-4},{"z":43.5e-9,"d":-18.56e-4},{"z":44e-9,"d":-16.39e-4},{"z":44.5e-9,"d":-18.18e-4},
{"z":45e-9,"d":-17.57e-4},{"z":45.5e-9,"d":-19.06e-4},{"z":46e-9,"d":-16.77e-4},{"z":46.5e-9,"d":-18.11e-4},{"z":47e-9,"d":-16.25e-4},{"z":47.5e-9,"d":-18.41e-4},{"z":48e-9,"d":-16.97e-4},{"z":48.5e-9,"d":-18.84e-4},{"z":49e-9,"d":-16.32e-4},{"z":49.5e-9,"d":-17.50e-4},
{"z":50e-9,"d":-17.98e-4},{"z":50.5e-9,"d":-16.00e-4},{"z":51e-9,"d":-18.20e-4},{"z":51.5e-9,"d":-16.65e-4},{"z":52e-9,"d":-16.96e-4},{"z":52.5e-9,"d":-17.81e-4},{"z":53e-9,"d":-16.00e-4},{"z":53.5e-9,"d":-17.24e-4},{"z":54e-9,"d":-15.18e-4},{"z":54.5e-9,"d":-16.80e-4},
{"z":55e-9,"d":-16.19e-4},{"z":55.5e-9,"d":-17.52e-4},{"z":56e-9,"d":-15.35e-4},{"z":56.5e-9,"d":-16.54e-4},{"z":57e-9,"d":-14.76e-4},{"z":57.5e-9,"d":-16.72e-4},{"z":58e-9,"d":-15.34e-4},{"z":58.5e-9,"d":-17.03e-4},{"z":59e-9,"d":-14.63e-4},{"z":59.5e-9,"d":-15.68e-4},
{"z":60e-9,"d":-16.09e-4},{"z":60.5e-9,"d":-14.22e-4},{"z":61e-9,"d":-16.27e-4},{"z":61.5e-9,"d":-14.79e-4},{"z":62e-9,"d":-15.07e-4},{"z":62.5e-9,"d":-15.86e-4},{"z":63e-9,"d":-14.13e-4},{"z":63.5e-9,"d":-15.29e-4},{"z":64e-9,"d":-13.33e-4},{"z":64.5e-9,"d":-14.85e-4},
{"z":65e-9,"d":-14.25e-4},{"z":65.5e-9,"d":-15.52e-4},{"z":66e-9,"d":-13.47e-4},{"z":66.5e-9,"d":-14.60e-4},{"z":67e-9,"d":-12.92e-4},{"z":67.5e-9,"d":-14.78e-4},{"z":68e-9,"d":-13.48e-4},{"z":68.5e-9,"d":-15.08e-4},{"z":69e-9,"d":-12.82e-4},{"z":69.5e-9,"d":-13.81e-4},
{"z":70e-9,"d":-14.20e-4},{"z":70.5e-9,"d":-12.40e-4},{"z":71e-9,"d":-14.31e-4},{"z":71.5e-9,"d":-12.88e-4},{"z":72e-9,"d":-13.12e-4},{"z":72.5e-9,"d":-13.83e-4},{"z":73e-9,"d":-12.18e-4},{"z":73.5e-9,"d":-13.23e-4},{"z":74e-9,"d":-11.36e-4},{"z":74.5e-9,"d":-12.75e-4},
{"z":75e-9,"d":-12.17e-4},{"z":75.5e-9,"d":-13.32e-4},{"z":76e-9,"d":-11.36e-4},{"z":76.5e-9,"d":-12.38e-4},{"z":77e-9,"d":-10.79e-4},{"z":77.5e-9,"d":-12.48e-4},{"z":78e-9,"d":-11.23e-4},{"z":78.5e-9,"d":-12.68e-4},{"z":79e-9,"d":-10.55e-4},{"z":79.5e-9,"d":-11.43e-4},
{"z":80e-9,"d":-11.75e-4},{"z":80.5e-9,"d":-10.08e-4},{"z":81e-9,"d":-11.81e-4},{"z":81.5e-9,"d":-10.48e-4},{"z":82e-9,"d":-10.68e-4},{"z":82.5e-9,"d":-11.31e-4},{"z":83e-9,"d":-9.78e-4},{"z":83.5e-9,"d":-10.72e-4},{"z":84e-9,"d":-9.00e-4},{"z":84.5e-9,"d":-10.24e-4},
{"z":85e-9,"d":-9.69e-4},{"z":85.5e-9,"d":-10.71e-4},{"z":86e-9,"d":-8.90e-4},{"z":86.5e-9,"d":-9.81e-4},{"z":87e-9,"d":-8.33e-4},{"z":87.5e-9,"d":-9.85e-4},{"z":88e-9,"d":-8.68e-4},{"z":88.5e-9,"d":-9.98e-4},{"z":89e-9,"d":-8.01e-4},{"z":89.5e-9,"d":-8.79e-4},
{"z":90e-9,"d":-9.05e-4},{"z":90.5e-9,"d":-7.53e-4},{"z":91e-9,"d":-9.09e-4},{"z":91.5e-9,"d":-7.88e-4},{"z":92e-9,"d":-8.05e-4},{"z":92.5e-9,"d":-8.62e-4},{"z":93e-9,"d":-7.22e-4},{"z":93.5e-9,"d":-8.07e-4},{"z":94e-9,"d":-6.49e-4},{"z":94.5e-9,"d":-7.62e-4},
{"z":95e-9,"d":-7.11e-4},{"z":95.5e-9,"d":-8.03e-4},{"z":96e-9,"d":-6.38e-4},{"z":96.5e-9,"d":-7.19e-4},{"z":97e-9,"d":-5.85e-4},{"z":97.5e-9,"d":-7.21e-4},{"z":98e-9,"d":-6.15e-4},{"z":98.5e-9,"d":-7.31e-4},{"z":99e-9,"d":-5.53e-4},{"z":99.5e-9,"d":-6.22e-4},{"z":100e-9,"d":-6.45e-4},
{"z":25.25e-9,"d":-19.70e-4},{"z":25.75e-9,"d":-17.13e-4},{"z":26.25e-9,"d":-19.11e-4},{"z":26.75e-9,"d":-17.56e-4},{"z":27.25e-9,"d":-20.64e-4},{"z":27.75e-9,"d":-18.16e-4},{"z":28.25e-9,"d":-20.05e-4},{"z":28.75e-9,"d":-17.07e-4},{"z":29.25e-9,"d":-18.57e-4},{"z":29.75e-9,"d":-19.47e-4},
{"z":30.25e-9,"d":-16.95e-4},{"z":30.75e-9,"d":-20.15e-4},{"z":31.25e-9,"d":-17.83e-4},{"z":31.75e-9,"d":-18.87e-4},{"z":32.25e-9,"d":-17.48e-4},{"z":32.75e-9,"d":-19.69e-4},{"z":33.25e-9,"d":-18.31e-4},{"z":33.75e-9,"d":-20.14e-4},{"z":34.25e-9,"d":-17.96e-4},{"z":34.75e-9,"d":-18.61e-4},
{"z":35.25e-9,"d":-19.39e-4},{"z":35.75e-9,"d":-17.27e-4},{"z":36.25e-9,"d":-18.84e-4},{"z":36.75e-9,"d":-17.55e-4},{"z":37.25e-9,"d":-20.01e-4},{"z":37.75e-9,"d":-17.97e-4},{"z":38.25e-9,"d":-19.46e-4},{"z":38.75e-9,"d":-17.03e-4},{"z":39.25e-9,"d":-18.19e-4},{"z":39.75e-9,"d":-18.89e-4},
{"z":40.25e-9,"d":-16.83e-4},{"z":40.75e-9,"d":-19.38e-4},{"z":41.25e-9,"d":-17.47e-4},{"z":41.75e-9,"d":-18.28e-4},{"z":42.25e-9,"d":-17.10e-4},{"z":42.75e-9,"d":-18.90e-4},{"z":43.25e-9,"d":-17.73e-4},{"z":43.75e-9,"d":-19.23e-4},{"z":44.25e-9,"d":-17.36e-4},{"z":44.75e-9,"d":-17.87e-4},
{"z":45.25e-9,"d":-18.52e-4},{"z":45.75e-9,"d":-16.66e-4},{"z":46.25e-9,"d":-17.99e-4},{"z":46.75e-9,"d":-16.83e-4},{"z":47.25e-9,"d":-18.98e-4},{"z":47.75e-9,"d":-17.14e-4},{"z":48.25e-9,"d":-18.45e-4},{"z":48.75e-9,"d":-16.22e-4},{"z":49.25e-9,"d":-17.24e-4},{"z":49.75e-9,"d":-17.87e-4},
{"z":50.25e-9,"d":-15.91e-4},{"z":50.75e-9,"d":-18.24e-4},{"z":51.25e-9,"d":-16.42e-4},{"z":51.75e-9,"d":-17.13e-4},{"z":52.25e-9,"d":-15.99e-4},{"z":52.75e-9,"d":-17.62e-4},{"z":53.25e-9,"d":-16.49e-4},{"z":53.75e-9,"d":-17.84e-4},{"z":54.25e-9,"d":-16.06e-4},{"z":54.75e-9,"d":-16.49e-4},
{"z":55.25e-9,"d":-17.05e-4},{"z":55.75e-9,"d":-15.27e-4},{"z":56.25e-9,"d":-16.46e-4},{"z":56.75e-9,"d":-15.33e-4},{"z":57.25e-9,"d":-17.28e-4},{"z":57.75e-9,"d":-15.52e-4},{"z":58.25e-9,"d":-16.70e-4},{"z":58.75e-9,"d":-14.56e-4},{"z":59.25e-9,"d":-15.47e-4},{"z":59.75e-9,"d":-16.01e-4},
{"z":60.25e-9,"d":-14.14e-4},{"z":60.75e-9,"d":-16.32e-4},{"z":61.25e-9,"d":-14.59e-4},{"z":61.75e-9,"d":-15.25e-4},{"z":62.25e-9,"d":-14.16e-4},{"z":62.75e-9,"d":-15.68e-4},{"z":63.25e-9,"d":-14.59e-4},{"z":63.75e-9,"d":-15.86e-4},{"z":64.25e-9,"d":-14.16e-4},{"z":64.75e-9,"d":-14.55e-4},
{"z":65.25e-9,"d":-15.08e-4},{"z":65.75e-9,"d":-13.39e-4},{"z":66.25e-9,"d":-14.52e-4},{"z":66.75e-9,"d":-13.46e-4},{"z":67.25e-9,"d":-15.31e-4},{"z":67.75e-9,"d":-13.65e-4},{"z":68.25e-9,"d":-14.77e-4},{"z":68.75e-9,"d":-12.75e-4},{"z":69.25e-9,"d":-13.62e-4},{"z":69.75e-9,"d":-14.13e-4},
{"z":70.25e-9,"d":-12.34e-4},{"z":70.75e-9,"d":-14.37e-4},{"z":71.25e-9,"d":-12.71e-4},{"z":71.75e-9,"d":-13.30e-4},{"z":72.25e-9,"d":-12.23e-4},{"z":72.75e-9,"d":-13.64e-4},{"z":73.25e-9,"d":-12.59e-4},{"z":73.75e-9,"d":-13.74e-4},{"z":74.25e-9,"d":-12.12e-4},{"z":74.75e-9,"d":-12.46e-4},
{"z":75.25e-9,"d":-12.92e-4},{"z":75.75e-9,"d":-11.31e-4},{"z":76.25e-9,"d":-12.33e-4},{"z":76.75e-9,"d":-11.30e-4},{"z":77.25e-9,"d":-12.99e-4},{"z":77.75e-9,"d":-11.40e-4},{"z":78.25e-9,"d":-12.40e-4},{"z":78.75e-9,"d":-10.50e-4},{"z":79.25e-9,"d":-11.27e-4},{"z":79.75e-9,"d":-11.70e-4},
{"z":80.25e-9,"d":-10.04e-4},{"z":80.75e-9,"d":-11.88e-4},{"z":81.25e-9,"d":-10.34e-4},{"z":81.75e-9,"d":-10.86e-4},{"z":82.25e-9,"d":-9.86e-4},{"z":82.75e-9,"d":-11.13e-4},{"z":83.25e-9,"d":-10.15e-4},{"z":83.75e-9,"d":-11.18e-4},{"z":84.25e-9,"d":-9.68e-4},{"z":84.75e-9,"d":-9.97e-4},
{"z":85.25e-9,"d":-10.37e-4},{"z":85.75e-9,"d":-8.87e-4},{"z":86.25e-9,"d":-9.78e-4},{"z":86.75e-9,"d":-8.81e-4},{"z":87.25e-9,"d":-10.33e-4},{"z":87.75e-9,"d":-8.85e-4},{"z":88.25e-9,"d":-9.74e-4},{"z":88.75e-9,"d":-7.98e-4},{"z":89.25e-9,"d":-8.66e-4},{"z":89.75e-9,"d":-9.02e-4},
{"z":90.25e-9,"d":-7.49e-4},{"z":90.75e-9,"d":-9.16e-4},{"z":91.25e-9,"d":-7.75e-4},{"z":91.75e-9,"d":-8.22e-4},{"z":92.25e-9,"d":-7.30e-4},{"z":92.75e-9,"d":-8.45e-4},{"z":93.25e-9,"d":-7.55e-4},{"z":93.75e-9,"d":-8.48e-4},{"z":94.25e-9,"d":-7.11e-4},{"z":94.75e-9,"d":-7.37e-4},
{"z":95.25e-9,"d":-7.72e-4},{"z":95.75e-9,"d":-6.36e-4},{"z":96.25e-9,"d":-7.17e-4},{"z":96.75e-9,"d":-6.29e-4},{"z":97.25e-9,"d":-7.65e-4},{"z":97.75e-9,"d":-6.31e-4},{"z":98.25e-9,"d":-7.10e-4},{"z":98.75e-9,"d":-5.51e-4},{"z":99.25e-9,"d":-6.11e-4},{"z":99.75e-9,"d":-6.43e-4},
{"z":25.6e-9,"d":-15.74e-4},{"z":26.6e-9,"d":-21.63e-4},{"z":27.6e-9,"d":-16.26e-4},{"z":28.6e-9,"d":-21.34e-4},{"z":29.6e-9,"d":-15.84e-4},{"z":30.6e-9,"d":-21.03e-4},{"z":31.6e-9,"d":-16.26e-4},{"z":32.6e-9,"d":-21.41e-4},{"z":33.6e-9,"d":-16.14e-4},{"z":34.6e-9,"d":-21.07e-4},
{"z":35.6e-9,"d":-16.48e-4},{"z":36.6e-9,"d":-20.70e-4},{"z":37.6e-9,"d":-15.99e-4},{"z":38.6e-9,"d":-20.33e-4},{"z":39.6e-9,"d":-16.28e-4},{"z":40.6e-9,"d":-20.55e-4},{"z":41.6e-9,"d":-16.01e-4},{"z":42.6e-9,"d":-20.20e-4},{"z":43.6e-9,"d":-16.15e-4},{"z":44.6e-9,"d":-19.85e-4},
{"z":45.6e-9,"d":-15.56e-4},{"z":46.6e-9,"d":-19.46e-4},{"z":47.6e-9,"d":-15.64e-4},{"z":48.6e-9,"d":-19.63e-4},{"z":49.6e-9,"d":-15.32e-4},{"z":50.6e-9,"d":-19.21e-4},{"z":51.6e-9,"d":-15.30e-4},{"z":52.6e-9,"d":-18.71e-4},{"z":53.6e-9,"d":-14.59e-4},{"z":54.6e-9,"d":-18.21e-4},
{"z":55.6e-9,"d":-14.51e-4},{"z":56.6e-9,"d":-18.19e-4},{"z":57.6e-9,"d":-14.01e-4},{"z":58.6e-9,"d":-17.65e-4},{"z":59.6e-9,"d":-13.88e-4},{"z":60.6e-9,"d":-17.10e-4},{"z":61.6e-9,"d":-13.13e-4},{"z":62.6e-9,"d":-16.59e-4},{"z":63.6e-9,"d":-13.03e-4},{"z":64.6e-9,"d":-16.55e-4},
{"z":65.6e-9,"d":-12.56e-4},{"z":66.6e-9,"d":-16.04e-4},{"z":67.6e-9,"d":-12.46e-4},{"z":68.6e-9,"d":-15.54e-4},{"z":69.6e-9,"d":-11.75e-4},{"z":70.6e-9,"d":-15.01e-4},{"z":71.6e-9,"d":-11.57e-4},{"z":72.6e-9,"d":-14.85e-4},{"z":73.6e-9,"d":-11.00e-4},{"z":74.6e-9,"d":-14.23e-4},
{"z":75.6e-9,"d":-10.78e-4},{"z":76.6e-9,"d":-13.60e-4},{"z":77.6e-9,"d":-9.99e-4},{"z":78.6e-9,"d":-12.98e-4},{"z":79.6e-9,"d":-9.76e-4},{"z":80.6e-9,"d":-12.78e-4},{"z":81.6e-9,"d":-9.16e-4},{"z":82.6e-9,"d":-12.13e-4},{"z":83.6e-9,"d":-8.88e-4},{"z":84.6e-9,"d":-11.47e-4},
{"z":85.6e-9,"d":-8.08e-4},{"z":86.6e-9,"d":-10.81e-4},{"z":87.6e-9,"d":-7.77e-4},{"z":88.6e-9,"d":-10.55e-4},{"z":89.6e-9,"d":-7.16e-4},{"z":90.6e-9,"d":-9.89e-4},{"z":91.6e-9,"d":-6.88e-4},{"z":92.6e-9,"d":-9.26e-4},{"z":93.6e-9,"d":-6.11e-4},{"z":94.6e-9,"d":-8.64e-4},
{"z":95.6e-9,"d":-5.82e-4},{"z":96.6e-9,"d":-8.37e-4},{"z":97.6e-9,"d":-5.24e-4},{"z":98.6e-9,"d":-7.73e-4},{"z":99.6e-9,"d":-4.93e-4},
{"z":-12.1e-9,"d":-12.9e-4},{"z":-14.3e-9,"d":0.85e-4},{"z":-13.6e-9,"d":-3.7e-4},{"z":11.4e-9,"d":-5.3e-4},{"z":14.3e-9,"d":-7.4e-4},{"z":24.3e-9,"d":-13.8e-4},{"z":28.9e-9,"d":-14.9e-4},{"z":18.2e-9,"d":-21.6e-4},{"z":14.3e-9,"d":-21.1e-4},
{"z":-28.6e-9,"d":15.5e-4},{"z":-24.3e-9,"d":14.9e-4},{"z":-20.7e-9,"d":13.2e-4},{"z":-18.9e-9,"d":12.8e-4},{"z":-18.2e-9,"d":10.7e-4},{"z":-15.4e-9,"d":8.3e-4},{"z":-12.5e-9,"d":9.3e-4},{"z":-26.4e-9,"d":21.4e-4},{"z":8.6e-9,"d":14.7e-4},
{"z":12.5e-9,"d":-7.7e-4},{"z":10.4e-9,"d":4.0e-4},{"z":9.6e-9,"d":0.1e-4},{"z":-57.1e-9,"d":14.3e-4},{"z":17.9e-9,"d":-12.6e-4},{"z":27.5e-9,"d":-21.3e-4},{"z":44.6e-9,"d":-20.2e-4},{"z":47.9e-9,"d":-15.2e-4},{"z":50.0e-9,"d":-15.0e-4},
{"z":-10.7e-9,"d":-6.0e-4},{"z":-9.8e-9,"d":-9.5e-4},{"z":-11.5e-9,"d":2.5e-4},{"z":-10.2e-9,"d":6.5e-4},{"z":7.9e-9,"d":-2.5e-4},{"z":9.2e-9,"d":-10.5e-4}
]},
"resolve":{"axis":{"x":"independent","y":"independent"}},
"layer":[
{"mark":{"type":"point","shape":"M-1,0H1M0,-1V1","filled":false,"size":56,"strokeWidth":1.45,"opacity":0.9,"clip":true},
"encoding":{
"x":{"field":"z","type":"quantitative","scale":{"domain":[-1e-7,1e-7],"nice":false,"zero":false},
"axis":{"orient":"bottom","values":[-1e-7,-5e-8,0,5e-8,1e-7],"labelExpr":"datum.value == 0 ? '0' : replace(replace(format(datum.value, '.0e'), '\u2212', '-'), 'e-', 'e-0')","labelPadding":14.5,"title":"z (m)","titlePadding":7,"labelFlush":false}},
"y":{"field":"d","type":"quantitative","scale":{"domain":[-0.0025,0.0025],"nice":false,"zero":false},
"axis":{"orient":"left","values":[-0.0025,-0.002,-0.0015,-0.001,-0.0005,0,0.0005,0.001,0.0015,0.002,0.0025],"labelExpr":"replace(format(datum.value, '~g'), '\u2212', '-')","labelPadding":14,"title":"Δp/p₀","titlePadding":17,"labelFlush":false}},
"color":{"datum":"\"fort.10\"","type":"nominal","scale":{"range":["#ff0000"]},
"legend":{"orient":"none","legendX":520,"legendY":6,"title":null,"labelAlign":"right","labelOffset":-35,"symbolType":"M-1,0H1M0,-1V1","symbolSize":50,"symbolStrokeWidth":1,"labelFont":"Liberation Sans","labelFontSize":12.5,"labelColor":"#222222","padding":0}}
}},
{"data":{"values":[{}]},
"mark":{"type":"rule","color":"#8a8a8a","strokeWidth":1,"clip":false},
"encoding":{
"x":{"datum":-1.318e-7,"type":"quantitative","scale":{"domain":[-1e-7,1e-7],"nice":false,"zero":false},"axis":{"orient":"top","labels":false,"title":null,"values":[-1e-7,-5e-8,0,5e-8,1e-7]}},
"x2":{"datum":1.08e-7},
"y":{"datum":-0.002983,"type":"quantitative","scale":{"domain":[-0.0025,0.0025],"nice":false,"zero":false},"axis":{"orient":"right","labels":false,"title":null,"values":[-0.0025,-0.002,-0.0015,-0.001,-0.0005,0,0.0005,0.001,0.0015,0.002,0.0025]}}
}},
{"data":{"values":[{}]},
"mark":{"type":"text","text":"δ","fontSize":92,"font":"Liberation Sans","color":"#000000","align":"center","baseline":"alphabetic","clip":false},
"encoding":{
"x":{"datum":-1.3196e-7,"type":"quantitative","scale":{"domain":[-1e-7,1e-7],"nice":false,"zero":false},"axis":null},
"y":{"datum":0.000845,"type":"quantitative","scale":{"domain":[-0.0025,0.0025],"nice":false,"zero":false},"axis":null}
}},
{"data":{"values":[{}]},
"mark":{"type":"text","text":"z","fontSize":68,"fontWeight":"bold","font":"Liberation Sans","color":"#000000","align":"center","baseline":"alphabetic","clip":false},
"encoding":{
"x":{"datum":1.964e-8,"type":"quantitative","scale":{"domain":[-1e-7,1e-7],"nice":false,"zero":false},"axis":null},
"y":{"datum":-0.0034058,"type":"quantitative","scale":{"domain":[-0.0025,0.0025],"nice":false,"zero":false},"axis":null}
}}
]
}
